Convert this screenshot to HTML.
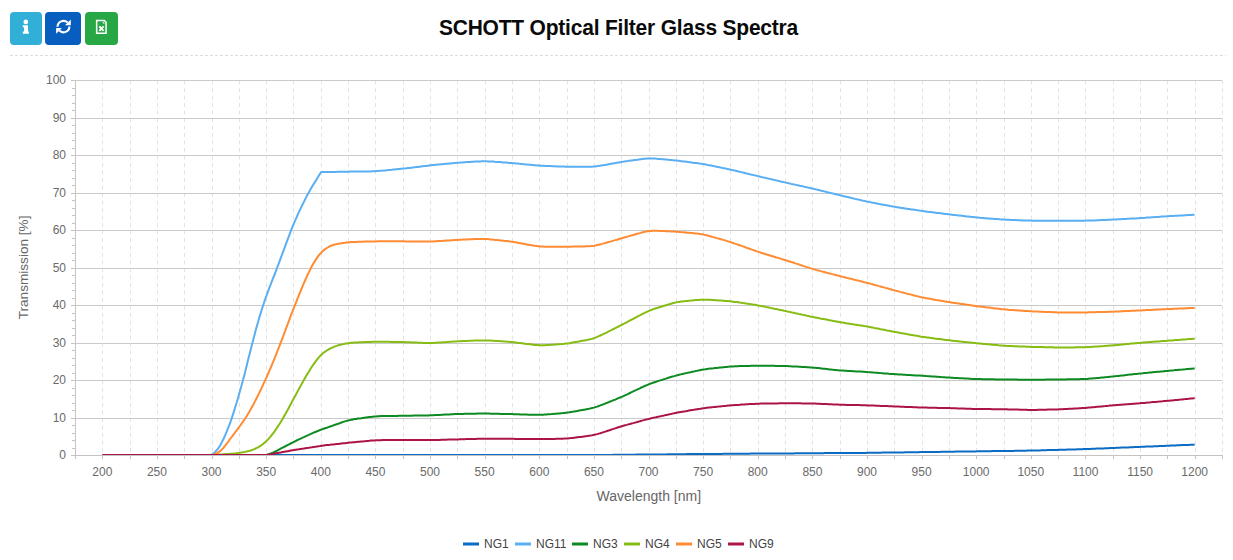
<!DOCTYPE html>
<html><head><meta charset="utf-8">
<style>
html,body{margin:0;padding:0;background:#fff;}
body{width:1233px;height:560px;position:relative;overflow:hidden;font-family:"Liberation Sans",sans-serif;}
.btn{position:absolute;top:12px;height:33px;border-radius:4px;}
.btn svg{position:absolute;left:0;top:0;}
#title{position:absolute;left:0;width:1237px;top:15.7px;text-align:center;font-weight:bold;font-size:22.3px;letter-spacing:-0.2px;color:#0a0a0a;line-height:24px;transform:scaleX(0.94);transform-origin:618.5px 0;}
svg text{font-family:"Liberation Sans",sans-serif;}
.lab{font-size:12px;fill:#6a6a6a;}
.ttl{font-size:14px;fill:#666;}
.ttl2{font-size:13.6px;fill:#666;}
.leg{font-size:12px;fill:#444;}
</style></head><body>
<div class="btn" style="left:10px;width:32px;background:#31afd6;">
<svg width="32" height="33" viewBox="0 0 32 33"><circle cx="15.8" cy="9.95" r="2.35" fill="#fff"/><path d="M12.8 13.3H18V19.6H18.9V21.8H12.8V19.6H14V15.2H12.8Z" fill="#fff"/></svg>
</div>
<div class="btn" style="left:45px;width:36px;background:#075ebf;">
<svg width="36" height="33" viewBox="0 0 36 33"><g fill="none" stroke="#fff" stroke-width="2.1"><path d="M12.55 14.8A5.9 5.9 0 0 1 22.6 10.6"/><path d="M24.35 14.4A5.9 5.9 0 0 1 14.3 18.6"/></g><path d="M25.8 7.4V13.2H20Z" fill="#fff"/><path d="M11.1 21.8V16H16.9Z" fill="#fff"/></svg>
</div>
<div class="btn" style="left:85px;width:33px;background:#28a745;">
<svg width="33" height="33" viewBox="0 0 33 33"><path d="M11.65 8.55H19.3L21.05 10.3V21.15H11.65Z" fill="none" stroke="#fff" stroke-width="1.5"/><path d="M17.9 9.4V11.5H20Z" fill="#fff"/><path d="M14.3 14.4L18.6 18.9M18.6 14.4L14.3 18.9" stroke="#fff" stroke-width="1.9"/></svg>
</div>
<div id="title">SCHOTT Optical Filter Glass Spectra</div>
<svg style="position:absolute;left:0;top:0" width="1233" height="560">
<line x1="10" y1="55.5" x2="1226" y2="55.5" stroke="#dcdcdc" stroke-dasharray="3 2"/>
<line x1="102.5" y1="80.5" x2="102.5" y2="455" stroke="#e3e3e3" stroke-dasharray="4 3.5"/>
<line x1="130.5" y1="80.5" x2="130.5" y2="455" stroke="#e3e3e3" stroke-dasharray="4 3.5"/>
<line x1="157.5" y1="80.5" x2="157.5" y2="455" stroke="#e3e3e3" stroke-dasharray="4 3.5"/>
<line x1="184.5" y1="80.5" x2="184.5" y2="455" stroke="#e3e3e3" stroke-dasharray="4 3.5"/>
<line x1="212.5" y1="80.5" x2="212.5" y2="455" stroke="#e3e3e3" stroke-dasharray="4 3.5"/>
<line x1="239.5" y1="80.5" x2="239.5" y2="455" stroke="#e3e3e3" stroke-dasharray="4 3.5"/>
<line x1="266.5" y1="80.5" x2="266.5" y2="455" stroke="#e3e3e3" stroke-dasharray="4 3.5"/>
<line x1="293.5" y1="80.5" x2="293.5" y2="455" stroke="#e3e3e3" stroke-dasharray="4 3.5"/>
<line x1="321.5" y1="80.5" x2="321.5" y2="455" stroke="#e3e3e3" stroke-dasharray="4 3.5"/>
<line x1="348.5" y1="80.5" x2="348.5" y2="455" stroke="#e3e3e3" stroke-dasharray="4 3.5"/>
<line x1="375.5" y1="80.5" x2="375.5" y2="455" stroke="#e3e3e3" stroke-dasharray="4 3.5"/>
<line x1="403.5" y1="80.5" x2="403.5" y2="455" stroke="#e3e3e3" stroke-dasharray="4 3.5"/>
<line x1="430.5" y1="80.5" x2="430.5" y2="455" stroke="#e3e3e3" stroke-dasharray="4 3.5"/>
<line x1="457.5" y1="80.5" x2="457.5" y2="455" stroke="#e3e3e3" stroke-dasharray="4 3.5"/>
<line x1="485.5" y1="80.5" x2="485.5" y2="455" stroke="#e3e3e3" stroke-dasharray="4 3.5"/>
<line x1="512.5" y1="80.5" x2="512.5" y2="455" stroke="#e3e3e3" stroke-dasharray="4 3.5"/>
<line x1="539.5" y1="80.5" x2="539.5" y2="455" stroke="#e3e3e3" stroke-dasharray="4 3.5"/>
<line x1="567.5" y1="80.5" x2="567.5" y2="455" stroke="#e3e3e3" stroke-dasharray="4 3.5"/>
<line x1="594.5" y1="80.5" x2="594.5" y2="455" stroke="#e3e3e3" stroke-dasharray="4 3.5"/>
<line x1="621.5" y1="80.5" x2="621.5" y2="455" stroke="#e3e3e3" stroke-dasharray="4 3.5"/>
<line x1="649.5" y1="80.5" x2="649.5" y2="455" stroke="#e3e3e3" stroke-dasharray="4 3.5"/>
<line x1="676.5" y1="80.5" x2="676.5" y2="455" stroke="#e3e3e3" stroke-dasharray="4 3.5"/>
<line x1="703.5" y1="80.5" x2="703.5" y2="455" stroke="#e3e3e3" stroke-dasharray="4 3.5"/>
<line x1="730.5" y1="80.5" x2="730.5" y2="455" stroke="#e3e3e3" stroke-dasharray="4 3.5"/>
<line x1="758.5" y1="80.5" x2="758.5" y2="455" stroke="#e3e3e3" stroke-dasharray="4 3.5"/>
<line x1="785.5" y1="80.5" x2="785.5" y2="455" stroke="#e3e3e3" stroke-dasharray="4 3.5"/>
<line x1="812.5" y1="80.5" x2="812.5" y2="455" stroke="#e3e3e3" stroke-dasharray="4 3.5"/>
<line x1="840.5" y1="80.5" x2="840.5" y2="455" stroke="#e3e3e3" stroke-dasharray="4 3.5"/>
<line x1="867.5" y1="80.5" x2="867.5" y2="455" stroke="#e3e3e3" stroke-dasharray="4 3.5"/>
<line x1="894.5" y1="80.5" x2="894.5" y2="455" stroke="#e3e3e3" stroke-dasharray="4 3.5"/>
<line x1="922.5" y1="80.5" x2="922.5" y2="455" stroke="#e3e3e3" stroke-dasharray="4 3.5"/>
<line x1="949.5" y1="80.5" x2="949.5" y2="455" stroke="#e3e3e3" stroke-dasharray="4 3.5"/>
<line x1="976.5" y1="80.5" x2="976.5" y2="455" stroke="#e3e3e3" stroke-dasharray="4 3.5"/>
<line x1="1004.5" y1="80.5" x2="1004.5" y2="455" stroke="#e3e3e3" stroke-dasharray="4 3.5"/>
<line x1="1031.5" y1="80.5" x2="1031.5" y2="455" stroke="#e3e3e3" stroke-dasharray="4 3.5"/>
<line x1="1058.5" y1="80.5" x2="1058.5" y2="455" stroke="#e3e3e3" stroke-dasharray="4 3.5"/>
<line x1="1085.5" y1="80.5" x2="1085.5" y2="455" stroke="#e3e3e3" stroke-dasharray="4 3.5"/>
<line x1="1113.5" y1="80.5" x2="1113.5" y2="455" stroke="#e3e3e3" stroke-dasharray="4 3.5"/>
<line x1="1140.5" y1="80.5" x2="1140.5" y2="455" stroke="#e3e3e3" stroke-dasharray="4 3.5"/>
<line x1="1167.5" y1="80.5" x2="1167.5" y2="455" stroke="#e3e3e3" stroke-dasharray="4 3.5"/>
<line x1="1195.5" y1="80.5" x2="1195.5" y2="455" stroke="#e3e3e3" stroke-dasharray="4 3.5"/>
<line x1="1222.5" y1="80.5" x2="1222.5" y2="455" stroke="#e3e3e3" stroke-dasharray="4 3.5"/>
<line x1="75" y1="418.5" x2="1222" y2="418.5" stroke="#cacaca"/>
<line x1="75" y1="380.5" x2="1222" y2="380.5" stroke="#cacaca"/>
<line x1="75" y1="343.5" x2="1222" y2="343.5" stroke="#cacaca"/>
<line x1="75" y1="305.5" x2="1222" y2="305.5" stroke="#cacaca"/>
<line x1="75" y1="268.5" x2="1222" y2="268.5" stroke="#cacaca"/>
<line x1="75" y1="230.5" x2="1222" y2="230.5" stroke="#cacaca"/>
<line x1="75" y1="193.5" x2="1222" y2="193.5" stroke="#cacaca"/>
<line x1="75" y1="155.5" x2="1222" y2="155.5" stroke="#cacaca"/>
<line x1="75" y1="118.5" x2="1222" y2="118.5" stroke="#cacaca"/>
<line x1="75" y1="80.5" x2="1222" y2="80.5" stroke="#cacaca"/>
<path d="M102.3 455.0 L103.9 455.0 L105.6 455.0 L107.2 455.0 L108.9 455.0 L110.5 455.0 L112.1 455.0 L113.8 455.0 L115.4 455.0 L117.1 455.0 L118.7 455.0 L120.3 455.0 L122.0 455.0 L123.6 455.0 L125.2 455.0 L126.9 455.0 L128.5 455.0 L130.2 455.0 L131.8 455.0 L133.4 455.0 L135.1 455.0 L136.7 455.0 L138.4 455.0 L140.0 455.0 L141.6 455.0 L143.3 455.0 L144.9 455.0 L146.6 455.0 L148.2 455.0 L149.8 455.0 L151.5 455.0 L153.1 455.0 L154.7 455.0 L156.4 455.0 L158.0 455.0 L159.7 455.0 L161.3 455.0 L162.9 455.0 L164.6 455.0 L166.2 455.0 L167.9 455.0 L169.5 455.0 L171.1 455.0 L172.8 455.0 L174.4 455.0 L176.0 455.0 L177.7 455.0 L179.3 455.0 L181.0 455.0 L182.6 455.0 L184.2 455.0 L185.9 455.0 L187.5 455.0 L189.2 455.0 L190.8 455.0 L192.4 455.0 L194.1 455.0 L195.7 455.0 L197.3 455.0 L199.0 455.0 L200.6 455.0 L202.3 455.0 L203.9 455.0 L205.5 455.0 L207.2 455.0 L208.8 455.0 L210.5 455.0 L212.1 455.0 L213.7 455.0 L215.4 455.0 L217.0 455.0 L218.6 455.0 L220.3 455.0 L221.9 455.0 L223.6 455.0 L225.2 455.0 L226.8 455.0 L228.5 455.0 L230.1 455.0 L231.8 455.0 L233.4 455.0 L235.0 455.0 L236.7 455.0 L238.3 455.0 L239.9 455.0 L241.6 455.0 L243.2 455.0 L244.9 455.0 L246.5 455.0 L248.1 455.0 L249.8 455.0 L251.4 455.0 L253.1 455.0 L254.7 455.0 L256.3 455.0 L258.0 455.0 L259.6 455.0 L261.3 455.0 L262.9 455.0 L264.5 455.0 L266.2 455.0 L267.8 455.0 L269.4 455.0 L271.1 455.0 L272.7 455.0 L274.4 455.0 L276.0 455.0 L277.6 455.0 L279.3 455.0 L280.9 455.0 L282.6 455.0 L284.2 455.0 L285.8 455.0 L287.5 455.0 L289.1 455.0 L290.7 455.0 L292.4 455.0 L294.0 455.0 L295.7 455.0 L297.3 455.0 L298.9 455.0 L300.6 455.0 L302.2 455.0 L303.9 455.0 L305.5 455.0 L307.1 455.0 L308.8 455.0 L310.4 455.0 L312.0 455.0 L313.7 455.0 L315.3 455.0 L317.0 455.0 L318.6 455.0 L320.2 455.0 L321.9 455.0 L323.5 455.0 L325.2 455.0 L326.8 455.0 L328.4 455.0 L330.1 455.0 L331.7 455.0 L333.3 455.0 L335.0 455.0 L336.6 455.0 L338.3 455.0 L339.9 455.0 L341.5 455.0 L343.2 455.0 L344.8 455.0 L346.5 455.0 L348.1 455.0 L349.7 455.0 L351.4 455.0 L353.0 455.0 L354.6 455.0 L356.3 455.0 L357.9 455.0 L359.6 455.0 L361.2 455.0 L362.8 455.0 L364.5 455.0 L366.1 455.0 L367.8 455.0 L369.4 455.0 L371.0 455.0 L372.7 455.0 L374.3 455.0 L376.0 455.0 L377.6 455.0 L379.2 455.0 L380.9 455.0 L382.5 455.0 L384.1 455.0 L385.8 455.0 L387.4 455.0 L389.1 455.0 L390.7 455.0 L392.3 455.0 L394.0 455.0 L395.6 455.0 L397.3 455.0 L398.9 455.0 L400.5 455.0 L402.2 455.0 L403.8 455.0 L405.4 455.0 L407.1 455.0 L408.7 455.0 L410.4 455.0 L412.0 455.0 L413.6 455.0 L415.3 455.0 L416.9 455.0 L418.6 455.0 L420.2 455.0 L421.8 455.0 L423.5 455.0 L425.1 455.0 L426.7 455.0 L428.4 455.0 L430.0 455.0 L431.7 455.0 L433.3 455.0 L434.9 455.0 L436.6 455.0 L438.2 455.0 L439.9 455.0 L441.5 455.0 L443.1 455.0 L444.8 455.0 L446.4 455.0 L448.0 455.0 L449.7 455.0 L451.3 455.0 L453.0 455.0 L454.6 455.0 L456.2 455.0 L457.9 455.0 L459.5 455.0 L461.2 455.0 L462.8 455.0 L464.4 455.0 L466.1 455.0 L467.7 455.0 L469.3 455.0 L471.0 455.0 L472.6 455.0 L474.3 455.0 L475.9 455.0 L477.5 455.0 L479.2 455.0 L480.8 455.0 L482.5 455.0 L484.1 455.0 L485.7 455.0 L487.4 455.0 L489.0 455.0 L490.7 455.0 L492.3 455.0 L493.9 455.0 L495.6 455.0 L497.2 455.0 L498.8 455.0 L500.5 455.0 L502.1 455.0 L503.8 455.0 L505.4 455.0 L507.0 455.0 L508.7 455.0 L510.3 455.0 L512.0 455.0 L513.6 455.0 L515.2 455.0 L516.9 455.0 L518.5 455.0 L520.1 455.0 L521.8 455.0 L523.4 455.0 L525.1 455.0 L526.7 455.0 L528.3 455.0 L530.0 455.0 L531.6 455.0 L533.3 455.0 L534.9 455.0 L536.5 455.0 L538.2 455.0 L539.8 455.0 L541.4 455.0 L543.1 455.0 L544.7 455.0 L546.4 455.0 L548.0 455.0 L549.6 455.0 L551.3 455.0 L552.9 455.0 L554.6 455.0 L556.2 455.0 L557.8 455.0 L559.5 455.0 L561.1 455.0 L562.7 455.0 L564.4 455.0 L566.0 455.0 L567.7 455.0 L569.3 455.0 L570.9 455.0 L572.6 455.0 L574.2 455.0 L575.9 455.0 L577.5 455.0 L579.1 455.0 L580.8 455.0 L582.4 455.0 L584.0 455.0 L585.7 455.0 L587.3 455.0 L589.0 455.0 L590.6 455.0 L592.2 455.0 L593.9 455.0 L595.5 455.0 L597.2 455.0 L598.8 455.0 L600.4 454.9 L602.1 454.9 L603.7 454.9 L605.4 454.9 L607.0 454.9 L608.6 454.9 L610.3 454.9 L611.9 454.9 L613.5 454.8 L615.2 454.8 L616.8 454.8 L618.5 454.8 L620.1 454.8 L621.7 454.8 L623.4 454.8 L625.0 454.7 L626.7 454.7 L628.3 454.7 L629.9 454.7 L631.6 454.7 L633.2 454.7 L634.8 454.7 L636.5 454.6 L638.1 454.6 L639.8 454.6 L641.4 454.6 L643.0 454.6 L644.7 454.6 L646.3 454.6 L648.0 454.5 L649.6 454.5 L651.2 454.5 L652.9 454.5 L654.5 454.5 L656.1 454.5 L657.8 454.4 L659.4 454.4 L661.1 454.4 L662.7 454.4 L664.3 454.4 L666.0 454.4 L667.6 454.3 L669.3 454.3 L670.9 454.3 L672.5 454.3 L674.2 454.3 L675.8 454.3 L677.4 454.2 L679.1 454.2 L680.7 454.2 L682.4 454.2 L684.0 454.2 L685.6 454.2 L687.3 454.1 L688.9 454.1 L690.6 454.1 L692.2 454.1 L693.8 454.1 L695.5 454.1 L697.1 454.0 L698.7 454.0 L700.4 454.0 L702.0 454.0 L703.7 454.0 L705.3 454.0 L706.9 454.0 L708.6 453.9 L710.2 453.9 L711.9 453.9 L713.5 453.9 L715.1 453.9 L716.8 453.9 L718.4 453.9 L720.1 453.9 L721.7 453.9 L723.3 453.8 L725.0 453.8 L726.6 453.8 L728.2 453.8 L729.9 453.8 L731.5 453.8 L733.2 453.8 L734.8 453.8 L736.4 453.8 L738.1 453.7 L739.7 453.7 L741.4 453.7 L743.0 453.7 L744.6 453.7 L746.3 453.7 L747.9 453.7 L749.5 453.7 L751.2 453.6 L752.8 453.6 L754.5 453.6 L756.1 453.6 L757.7 453.6 L759.4 453.6 L761.0 453.6 L762.7 453.6 L764.3 453.6 L765.9 453.5 L767.6 453.5 L769.2 453.5 L770.8 453.5 L772.5 453.5 L774.1 453.5 L775.8 453.5 L777.4 453.5 L779.0 453.5 L780.7 453.4 L782.3 453.4 L784.0 453.4 L785.6 453.4 L787.2 453.4 L788.9 453.4 L790.5 453.4 L792.1 453.4 L793.8 453.4 L795.4 453.3 L797.1 453.3 L798.7 453.3 L800.3 453.3 L802.0 453.3 L803.6 453.3 L805.3 453.3 L806.9 453.3 L808.5 453.3 L810.2 453.2 L811.8 453.2 L813.4 453.2 L815.1 453.2 L816.7 453.2 L818.4 453.2 L820.0 453.2 L821.6 453.2 L823.3 453.2 L824.9 453.1 L826.6 453.1 L828.2 453.1 L829.8 453.1 L831.5 453.1 L833.1 453.1 L834.8 453.1 L836.4 453.1 L838.0 453.1 L839.7 453.0 L841.3 453.0 L842.9 453.0 L844.6 453.0 L846.2 453.0 L847.9 453.0 L849.5 453.0 L851.1 453.0 L852.8 453.0 L854.4 452.9 L856.1 452.9 L857.7 452.9 L859.3 452.9 L861.0 452.9 L862.6 452.9 L864.2 452.9 L865.9 452.9 L867.5 452.8 L869.2 452.8 L870.8 452.8 L872.4 452.8 L874.1 452.8 L875.7 452.7 L877.4 452.7 L879.0 452.7 L880.6 452.7 L882.3 452.6 L883.9 452.6 L885.5 452.6 L887.2 452.6 L888.8 452.6 L890.5 452.5 L892.1 452.5 L893.7 452.5 L895.4 452.5 L897.0 452.4 L898.7 452.4 L900.3 452.4 L901.9 452.4 L903.6 452.4 L905.2 452.3 L906.8 452.3 L908.5 452.3 L910.1 452.3 L911.8 452.2 L913.4 452.2 L915.0 452.2 L916.7 452.2 L918.3 452.2 L920.0 452.1 L921.6 452.1 L923.2 452.1 L924.9 452.1 L926.5 452.0 L928.1 452.0 L929.8 452.0 L931.4 452.0 L933.1 452.0 L934.7 451.9 L936.3 451.9 L938.0 451.9 L939.6 451.9 L941.3 451.8 L942.9 451.8 L944.5 451.8 L946.2 451.8 L947.8 451.7 L949.5 451.7 L951.1 451.7 L952.7 451.7 L954.4 451.7 L956.0 451.6 L957.6 451.6 L959.3 451.6 L960.9 451.6 L962.6 451.5 L964.2 451.5 L965.8 451.5 L967.5 451.5 L969.1 451.5 L970.8 451.4 L972.4 451.4 L974.0 451.4 L975.7 451.4 L977.3 451.3 L978.9 451.3 L980.6 451.3 L982.2 451.3 L983.9 451.3 L985.5 451.2 L987.1 451.2 L988.8 451.2 L990.4 451.2 L992.1 451.1 L993.7 451.1 L995.3 451.1 L997.0 451.1 L998.6 451.1 L1000.2 451.0 L1001.9 451.0 L1003.5 451.0 L1005.2 451.0 L1006.8 450.9 L1008.4 450.9 L1010.1 450.9 L1011.7 450.9 L1013.4 450.9 L1015.0 450.8 L1016.6 450.8 L1018.3 450.8 L1019.9 450.8 L1021.5 450.7 L1023.2 450.7 L1024.8 450.7 L1026.5 450.7 L1028.1 450.6 L1029.7 450.6 L1031.4 450.6 L1033.0 450.5 L1034.7 450.5 L1036.3 450.5 L1037.9 450.4 L1039.6 450.4 L1041.2 450.3 L1042.8 450.3 L1044.5 450.2 L1046.1 450.2 L1047.8 450.1 L1049.4 450.1 L1051.0 450.1 L1052.7 450.0 L1054.3 450.0 L1056.0 449.9 L1057.6 449.9 L1059.2 449.8 L1060.9 449.8 L1062.5 449.7 L1064.2 449.7 L1065.8 449.7 L1067.4 449.6 L1069.1 449.6 L1070.7 449.5 L1072.3 449.5 L1074.0 449.4 L1075.6 449.4 L1077.3 449.3 L1078.9 449.3 L1080.5 449.2 L1082.2 449.2 L1083.8 449.1 L1085.5 449.1 L1087.1 449.0 L1088.7 449.0 L1090.4 448.9 L1092.0 448.8 L1093.6 448.8 L1095.3 448.7 L1096.9 448.6 L1098.6 448.6 L1100.2 448.5 L1101.8 448.4 L1103.5 448.4 L1105.1 448.3 L1106.8 448.2 L1108.4 448.2 L1110.0 448.1 L1111.7 448.0 L1113.3 448.0 L1114.9 447.9 L1116.6 447.8 L1118.2 447.8 L1119.9 447.7 L1121.5 447.6 L1123.1 447.6 L1124.8 447.5 L1126.4 447.4 L1128.1 447.4 L1129.7 447.3 L1131.3 447.2 L1133.0 447.2 L1134.6 447.1 L1136.2 447.0 L1137.9 447.0 L1139.5 446.9 L1141.2 446.8 L1142.8 446.8 L1144.4 446.7 L1146.1 446.6 L1147.7 446.6 L1149.4 446.5 L1151.0 446.4 L1152.6 446.4 L1154.3 446.3 L1155.9 446.2 L1157.5 446.2 L1159.2 446.1 L1160.8 446.0 L1162.5 445.9 L1164.1 445.9 L1165.7 445.8 L1167.4 445.7 L1169.0 445.7 L1170.7 445.6 L1172.3 445.5 L1173.9 445.5 L1175.6 445.4 L1177.2 445.3 L1178.9 445.3 L1180.5 445.2 L1182.1 445.1 L1183.8 445.1 L1185.4 445.0 L1187.0 444.9 L1188.7 444.9 L1190.3 444.8 L1192.0 444.7 L1193.6 444.7 L1194.7 444.6" fill="none" stroke="#0a6cc4" stroke-width="2" stroke-linejoin="round" stroke-linecap="butt"/>
<path d="M102.3 455.0 L103.9 455.0 L105.6 455.0 L107.2 455.0 L108.9 455.0 L110.5 455.0 L112.1 455.0 L113.8 455.0 L115.4 455.0 L117.1 455.0 L118.7 455.0 L120.3 455.0 L122.0 455.0 L123.6 455.0 L125.2 455.0 L126.9 455.0 L128.5 455.0 L130.2 455.0 L131.8 455.0 L133.4 455.0 L135.1 455.0 L136.7 455.0 L138.4 455.0 L140.0 455.0 L141.6 455.0 L143.3 455.0 L144.9 455.0 L146.6 455.0 L148.2 455.0 L149.8 455.0 L151.5 455.0 L153.1 455.0 L154.7 455.0 L156.4 455.0 L158.0 455.0 L159.7 455.0 L161.3 455.0 L162.9 455.0 L164.6 455.0 L166.2 455.0 L167.9 455.0 L169.5 455.0 L171.1 455.0 L172.8 455.0 L174.4 455.0 L176.0 455.0 L177.7 455.0 L179.3 455.0 L181.0 455.0 L182.6 455.0 L184.2 455.0 L185.9 455.0 L187.5 455.0 L189.2 455.0 L190.8 455.0 L192.4 455.0 L194.1 455.0 L195.7 455.0 L197.3 455.0 L199.0 455.0 L200.6 455.0 L202.3 455.0 L203.9 455.0 L205.5 455.0 L207.2 455.0 L208.8 455.0 L210.5 454.9 L212.1 454.4 L213.7 453.2 L215.4 451.7 L217.0 449.9 L218.6 447.8 L220.3 445.2 L221.9 442.1 L223.6 438.8 L225.2 435.2 L226.8 431.3 L228.5 427.2 L230.1 422.8 L231.8 418.1 L233.4 413.1 L235.0 407.8 L236.7 402.5 L238.3 397.0 L239.9 391.2 L241.6 385.3 L243.2 379.2 L244.9 372.9 L246.5 366.4 L248.1 359.8 L249.8 353.3 L251.4 346.8 L253.1 340.4 L254.7 334.2 L256.3 328.1 L258.0 322.3 L259.6 316.6 L261.3 311.2 L262.9 306.1 L264.5 301.2 L266.2 296.5 L267.8 292.0 L269.4 287.7 L271.1 283.4 L272.7 279.2 L274.4 275.0 L276.0 270.8 L277.6 266.5 L279.3 262.1 L280.9 257.7 L282.6 253.2 L284.2 248.8 L285.8 244.3 L287.5 239.9 L289.1 235.6 L290.7 231.3 L292.4 227.2 L294.0 223.2 L295.7 219.4 L297.3 215.7 L298.9 212.1 L300.6 208.6 L302.2 205.2 L303.9 201.9 L305.5 198.6 L307.1 195.5 L308.8 192.5 L310.4 189.6 L312.0 186.8 L313.7 184.0 L315.3 181.4 L317.0 178.7 L318.6 176.1 L320.2 173.5 L320.8 172.6 L321.1 172.1 L322.8 172.0 L324.4 172.0 L326.1 172.0 L327.7 172.0 L329.3 171.9 L331.0 171.9 L332.6 171.9 L334.3 171.9 L335.9 171.9 L337.5 171.8 L339.2 171.8 L340.8 171.8 L342.4 171.8 L344.1 171.7 L345.7 171.7 L347.4 171.7 L349.0 171.7 L350.6 171.6 L352.3 171.6 L353.9 171.6 L355.6 171.6 L357.2 171.6 L358.8 171.5 L360.5 171.5 L362.1 171.5 L363.7 171.5 L365.4 171.4 L367.0 171.4 L368.7 171.4 L370.3 171.4 L371.9 171.3 L373.6 171.2 L375.2 171.2 L376.9 171.1 L378.5 171.0 L380.1 170.8 L381.8 170.7 L383.4 170.6 L385.0 170.4 L386.7 170.3 L388.3 170.1 L390.0 169.9 L391.6 169.8 L393.2 169.6 L394.9 169.5 L396.5 169.3 L398.2 169.1 L399.8 169.0 L401.4 168.8 L403.1 168.6 L404.7 168.4 L406.4 168.3 L408.0 168.1 L409.6 167.9 L411.3 167.7 L412.9 167.5 L414.5 167.3 L416.2 167.1 L417.8 166.9 L419.5 166.7 L421.1 166.5 L422.7 166.3 L424.4 166.1 L426.0 165.9 L427.7 165.7 L429.3 165.5 L430.9 165.3 L432.6 165.1 L434.2 165.0 L435.8 164.8 L437.5 164.6 L439.1 164.5 L440.8 164.3 L442.4 164.2 L444.0 164.0 L445.7 163.8 L447.3 163.7 L449.0 163.5 L450.6 163.4 L452.2 163.2 L453.9 163.1 L455.5 162.9 L457.1 162.8 L458.8 162.7 L460.4 162.6 L462.1 162.4 L463.7 162.3 L465.3 162.2 L467.0 162.1 L468.6 162.0 L470.3 161.9 L471.9 161.8 L473.5 161.7 L475.2 161.6 L476.8 161.5 L478.4 161.4 L480.1 161.4 L481.7 161.3 L483.4 161.3 L485.0 161.3 L486.6 161.3 L488.3 161.4 L489.9 161.4 L491.6 161.5 L493.2 161.6 L494.8 161.8 L496.5 161.9 L498.1 162.0 L499.7 162.1 L501.4 162.2 L503.0 162.4 L504.7 162.5 L506.3 162.6 L507.9 162.8 L509.6 162.9 L511.2 163.0 L512.9 163.2 L514.5 163.3 L516.1 163.5 L517.8 163.6 L519.4 163.8 L521.1 163.9 L522.7 164.1 L524.3 164.2 L526.0 164.4 L527.6 164.5 L529.2 164.7 L530.9 164.8 L532.5 165.0 L534.2 165.2 L535.8 165.3 L537.4 165.4 L539.1 165.5 L540.7 165.7 L542.4 165.8 L544.0 165.8 L545.6 165.9 L547.3 166.0 L548.9 166.1 L550.5 166.1 L552.2 166.2 L553.8 166.3 L555.5 166.3 L557.1 166.4 L558.7 166.5 L560.4 166.5 L562.0 166.6 L563.7 166.6 L565.3 166.7 L566.9 166.7 L568.6 166.8 L570.2 166.8 L571.8 166.8 L573.5 166.8 L575.1 166.8 L576.8 166.8 L578.4 166.8 L580.0 166.8 L581.7 166.8 L583.3 166.8 L585.0 166.8 L586.6 166.8 L588.2 166.8 L589.9 166.7 L591.5 166.7 L593.1 166.6 L594.8 166.4 L596.4 166.2 L598.1 166.0 L599.7 165.8 L601.3 165.5 L603.0 165.2 L604.6 164.9 L606.3 164.7 L607.9 164.4 L609.5 164.1 L611.2 163.8 L612.8 163.5 L614.4 163.2 L616.1 162.9 L617.7 162.6 L619.4 162.4 L621.0 162.1 L622.6 161.8 L624.3 161.6 L625.9 161.3 L627.6 161.1 L629.2 160.8 L630.8 160.6 L632.5 160.4 L634.1 160.1 L635.8 159.9 L637.4 159.7 L639.0 159.4 L640.7 159.2 L642.3 159.0 L643.9 158.8 L645.6 158.7 L647.2 158.5 L648.9 158.5 L650.5 158.4 L652.1 158.5 L653.8 158.5 L655.4 158.6 L657.1 158.8 L658.7 158.9 L660.3 159.0 L662.0 159.2 L663.6 159.3 L665.2 159.5 L666.9 159.6 L668.5 159.8 L670.2 159.9 L671.8 160.1 L673.4 160.2 L675.1 160.4 L676.7 160.6 L678.4 160.8 L680.0 161.0 L681.6 161.2 L683.3 161.4 L684.9 161.6 L686.5 161.8 L688.2 162.0 L689.8 162.2 L691.5 162.4 L693.1 162.7 L694.7 162.9 L696.4 163.1 L698.0 163.3 L699.7 163.6 L701.3 163.8 L702.9 164.1 L704.6 164.3 L706.2 164.6 L707.8 165.0 L709.5 165.3 L711.1 165.6 L712.8 165.9 L714.4 166.3 L716.0 166.6 L717.7 166.9 L719.3 167.3 L721.0 167.6 L722.6 168.0 L724.2 168.3 L725.9 168.6 L727.5 169.0 L729.1 169.3 L730.8 169.7 L732.4 170.1 L734.1 170.4 L735.7 170.8 L737.3 171.2 L739.0 171.6 L740.6 172.0 L742.3 172.4 L743.9 172.8 L745.5 173.2 L747.2 173.6 L748.8 174.0 L750.5 174.4 L752.1 174.7 L753.7 175.1 L755.4 175.5 L757.0 175.9 L758.6 176.3 L760.3 176.7 L761.9 177.1 L763.6 177.5 L765.2 177.8 L766.8 178.2 L768.5 178.6 L770.1 179.0 L771.8 179.4 L773.4 179.8 L775.0 180.1 L776.7 180.5 L778.3 180.9 L779.9 181.3 L781.6 181.7 L783.2 182.0 L784.9 182.4 L786.5 182.8 L788.1 183.1 L789.8 183.5 L791.4 183.9 L793.1 184.2 L794.7 184.6 L796.3 185.0 L798.0 185.3 L799.6 185.7 L801.2 186.0 L802.9 186.4 L804.5 186.8 L806.2 187.1 L807.8 187.5 L809.4 187.8 L811.1 188.2 L812.7 188.6 L814.4 189.0 L816.0 189.4 L817.6 189.8 L819.3 190.2 L820.9 190.6 L822.5 191.0 L824.2 191.4 L825.8 191.8 L827.5 192.2 L829.1 192.6 L830.7 193.0 L832.4 193.4 L834.0 193.8 L835.7 194.2 L837.3 194.6 L838.9 195.0 L840.6 195.4 L842.2 195.8 L843.8 196.2 L845.5 196.6 L847.1 196.9 L848.8 197.3 L850.4 197.7 L852.0 198.1 L853.7 198.5 L855.3 198.9 L857.0 199.2 L858.6 199.6 L860.2 200.0 L861.9 200.4 L863.5 200.7 L865.2 201.1 L866.8 201.5 L868.4 201.8 L870.1 202.1 L871.7 202.5 L873.3 202.8 L875.0 203.1 L876.6 203.4 L878.3 203.7 L879.9 204.1 L881.5 204.4 L883.2 204.7 L884.8 205.0 L886.5 205.3 L888.1 205.6 L889.7 205.9 L891.4 206.2 L893.0 206.5 L894.6 206.8 L896.3 207.1 L897.9 207.4 L899.6 207.6 L901.2 207.9 L902.8 208.1 L904.5 208.4 L906.1 208.6 L907.8 208.9 L909.4 209.1 L911.0 209.4 L912.7 209.6 L914.3 209.8 L915.9 210.1 L917.6 210.3 L919.2 210.6 L920.9 210.8 L922.5 211.0 L924.1 211.2 L925.8 211.5 L927.4 211.7 L929.1 211.9 L930.7 212.1 L932.3 212.3 L934.0 212.5 L935.6 212.7 L937.2 212.9 L938.9 213.1 L940.5 213.3 L942.2 213.5 L943.8 213.7 L945.4 213.9 L947.1 214.1 L948.7 214.3 L950.4 214.5 L952.0 214.7 L953.6 214.9 L955.3 215.1 L956.9 215.3 L958.5 215.5 L960.2 215.6 L961.8 215.8 L963.5 216.0 L965.1 216.2 L966.7 216.4 L968.4 216.6 L970.0 216.8 L971.7 217.0 L973.3 217.1 L974.9 217.3 L976.6 217.5 L978.2 217.6 L979.9 217.8 L981.5 217.9 L983.1 218.0 L984.8 218.2 L986.4 218.3 L988.0 218.4 L989.7 218.5 L991.3 218.7 L993.0 218.8 L994.6 218.9 L996.2 219.0 L997.9 219.1 L999.5 219.3 L1001.2 219.4 L1002.8 219.5 L1004.4 219.6 L1006.1 219.7 L1007.7 219.7 L1009.3 219.8 L1011.0 219.9 L1012.6 220.0 L1014.3 220.0 L1015.9 220.1 L1017.5 220.2 L1019.2 220.2 L1020.8 220.3 L1022.5 220.4 L1024.1 220.4 L1025.7 220.5 L1027.4 220.5 L1029.0 220.6 L1030.6 220.6 L1032.3 220.7 L1033.9 220.7 L1035.6 220.7 L1037.2 220.7 L1038.8 220.7 L1040.5 220.7 L1042.1 220.7 L1043.8 220.7 L1045.4 220.7 L1047.0 220.7 L1048.7 220.7 L1050.3 220.7 L1051.9 220.7 L1053.6 220.7 L1055.2 220.7 L1056.9 220.7 L1058.5 220.7 L1060.1 220.7 L1061.8 220.7 L1063.4 220.7 L1065.1 220.7 L1066.7 220.7 L1068.3 220.7 L1070.0 220.7 L1071.6 220.7 L1073.2 220.7 L1074.9 220.7 L1076.5 220.7 L1078.2 220.7 L1079.8 220.7 L1081.4 220.7 L1083.1 220.7 L1084.7 220.7 L1086.4 220.6 L1088.0 220.6 L1089.6 220.5 L1091.3 220.5 L1092.9 220.4 L1094.6 220.4 L1096.2 220.3 L1097.8 220.2 L1099.5 220.2 L1101.1 220.1 L1102.7 220.0 L1104.4 220.0 L1106.0 219.9 L1107.7 219.8 L1109.3 219.7 L1110.9 219.7 L1112.6 219.6 L1114.2 219.5 L1115.9 219.4 L1117.5 219.3 L1119.1 219.3 L1120.8 219.2 L1122.4 219.1 L1124.0 219.0 L1125.7 218.9 L1127.3 218.8 L1129.0 218.7 L1130.6 218.6 L1132.2 218.5 L1133.9 218.5 L1135.5 218.4 L1137.2 218.3 L1138.8 218.2 L1140.4 218.1 L1142.1 218.0 L1143.7 217.9 L1145.3 217.8 L1147.0 217.6 L1148.6 217.5 L1150.3 217.4 L1151.9 217.3 L1153.5 217.2 L1155.2 217.1 L1156.8 217.0 L1158.5 216.9 L1160.1 216.7 L1161.7 216.6 L1163.4 216.5 L1165.0 216.4 L1166.6 216.3 L1168.3 216.2 L1169.9 216.1 L1171.6 216.0 L1173.2 215.9 L1174.8 215.8 L1176.5 215.7 L1178.1 215.7 L1179.8 215.6 L1181.4 215.5 L1183.0 215.4 L1184.7 215.3 L1186.3 215.2 L1187.9 215.1 L1189.6 215.0 L1191.2 214.9 L1192.9 214.8 L1194.5 214.7" fill="none" stroke="#5aaef2" stroke-width="2" stroke-linejoin="round" stroke-linecap="butt"/>
<path d="M102.3 455.0 L103.9 455.0 L105.6 455.0 L107.2 455.0 L108.9 455.0 L110.5 455.0 L112.1 455.0 L113.8 455.0 L115.4 455.0 L117.1 455.0 L118.7 455.0 L120.3 455.0 L122.0 455.0 L123.6 455.0 L125.2 455.0 L126.9 455.0 L128.5 455.0 L130.2 455.0 L131.8 455.0 L133.4 455.0 L135.1 455.0 L136.7 455.0 L138.4 455.0 L140.0 455.0 L141.6 455.0 L143.3 455.0 L144.9 455.0 L146.6 455.0 L148.2 455.0 L149.8 455.0 L151.5 455.0 L153.1 455.0 L154.7 455.0 L156.4 455.0 L158.0 455.0 L159.7 455.0 L161.3 455.0 L162.9 455.0 L164.6 455.0 L166.2 455.0 L167.9 455.0 L169.5 455.0 L171.1 455.0 L172.8 455.0 L174.4 455.0 L176.0 455.0 L177.7 455.0 L179.3 455.0 L181.0 455.0 L182.6 455.0 L184.2 455.0 L185.9 455.0 L187.5 455.0 L189.2 455.0 L190.8 455.0 L192.4 455.0 L194.1 455.0 L195.7 455.0 L197.3 455.0 L199.0 455.0 L200.6 455.0 L202.3 455.0 L203.9 455.0 L205.5 455.0 L207.2 455.0 L208.8 455.0 L210.5 455.0 L212.1 455.0 L213.7 455.0 L215.4 455.0 L217.0 455.0 L218.6 455.0 L220.3 455.0 L221.9 455.0 L223.6 455.0 L225.2 455.0 L226.8 455.0 L228.5 455.0 L230.1 455.0 L231.8 455.0 L233.4 455.0 L235.0 455.0 L236.7 455.0 L238.3 455.0 L239.9 455.0 L241.6 455.0 L243.2 455.0 L244.9 455.0 L246.5 455.0 L248.1 455.0 L249.8 455.0 L251.4 455.0 L253.1 455.0 L254.7 455.0 L256.3 455.0 L258.0 455.0 L259.6 455.0 L261.3 455.0 L262.9 455.0 L264.5 455.0 L266.2 454.9 L267.8 454.5 L269.4 454.0 L271.1 453.4 L272.7 452.8 L274.4 452.0 L276.0 451.2 L277.6 450.3 L279.3 449.4 L280.9 448.5 L282.6 447.7 L284.2 446.8 L285.8 446.0 L287.5 445.1 L289.1 444.3 L290.7 443.5 L292.4 442.6 L294.0 441.8 L295.7 441.0 L297.3 440.2 L298.9 439.4 L300.6 438.6 L302.2 437.8 L303.9 437.1 L305.5 436.3 L307.1 435.6 L308.8 434.9 L310.4 434.1 L312.0 433.4 L313.7 432.7 L315.3 432.0 L317.0 431.3 L318.6 430.7 L320.2 430.0 L321.9 429.4 L323.5 428.8 L325.2 428.2 L326.8 427.7 L328.4 427.1 L330.1 426.5 L331.7 426.0 L333.3 425.4 L335.0 424.8 L336.6 424.3 L338.3 423.7 L339.9 423.1 L341.5 422.5 L343.2 421.9 L344.8 421.4 L346.5 420.9 L348.1 420.5 L349.7 420.1 L351.4 419.7 L353.0 419.4 L354.6 419.1 L356.3 418.9 L357.9 418.6 L359.6 418.4 L361.2 418.2 L362.8 417.9 L364.5 417.7 L366.1 417.5 L367.8 417.3 L369.4 417.1 L371.0 416.9 L372.7 416.7 L374.3 416.5 L376.0 416.4 L377.6 416.3 L379.2 416.2 L380.9 416.1 L382.5 416.1 L384.1 416.1 L385.8 416.0 L387.4 416.0 L389.1 416.0 L390.7 416.0 L392.3 415.9 L394.0 415.9 L395.6 415.9 L397.3 415.9 L398.9 415.8 L400.5 415.8 L402.2 415.8 L403.8 415.8 L405.4 415.8 L407.1 415.7 L408.7 415.7 L410.4 415.7 L412.0 415.7 L413.6 415.6 L415.3 415.6 L416.9 415.6 L418.6 415.6 L420.2 415.6 L421.8 415.5 L423.5 415.5 L425.1 415.5 L426.7 415.4 L428.4 415.4 L430.0 415.3 L431.7 415.3 L433.3 415.2 L434.9 415.1 L436.6 415.1 L438.2 415.0 L439.9 414.9 L441.5 414.8 L443.1 414.7 L444.8 414.6 L446.4 414.5 L448.0 414.4 L449.7 414.4 L451.3 414.3 L453.0 414.2 L454.6 414.1 L456.2 414.0 L457.9 414.0 L459.5 413.9 L461.2 413.9 L462.8 413.9 L464.4 413.8 L466.1 413.8 L467.7 413.8 L469.3 413.8 L471.0 413.7 L472.6 413.7 L474.3 413.7 L475.9 413.7 L477.5 413.6 L479.2 413.6 L480.8 413.6 L482.5 413.6 L484.1 413.6 L485.7 413.6 L487.4 413.6 L489.0 413.6 L490.7 413.7 L492.3 413.7 L493.9 413.7 L495.6 413.8 L497.2 413.8 L498.8 413.8 L500.5 413.9 L502.1 413.9 L503.8 413.9 L505.4 414.0 L507.0 414.0 L508.7 414.0 L510.3 414.1 L512.0 414.1 L513.6 414.2 L515.2 414.2 L516.9 414.3 L518.5 414.3 L520.1 414.4 L521.8 414.4 L523.4 414.5 L525.1 414.5 L526.7 414.6 L528.3 414.7 L530.0 414.7 L531.6 414.8 L533.3 414.8 L534.9 414.8 L536.5 414.8 L538.2 414.8 L539.8 414.8 L541.4 414.8 L543.1 414.7 L544.7 414.6 L546.4 414.5 L548.0 414.3 L549.6 414.2 L551.3 414.1 L552.9 413.9 L554.6 413.8 L556.2 413.7 L557.8 413.5 L559.5 413.4 L561.1 413.2 L562.7 413.1 L564.4 412.9 L566.0 412.7 L567.7 412.5 L569.3 412.3 L570.9 412.0 L572.6 411.8 L574.2 411.5 L575.9 411.2 L577.5 410.9 L579.1 410.6 L580.8 410.3 L582.4 410.0 L584.0 409.7 L585.7 409.4 L587.3 409.1 L589.0 408.8 L590.6 408.4 L592.2 408.0 L593.9 407.6 L595.5 407.1 L597.2 406.6 L598.8 406.0 L600.4 405.4 L602.1 404.8 L603.7 404.1 L605.4 403.5 L607.0 402.8 L608.6 402.2 L610.3 401.5 L611.9 400.9 L613.5 400.2 L615.2 399.6 L616.8 398.9 L618.5 398.2 L620.1 397.5 L621.7 396.8 L623.4 396.1 L625.0 395.3 L626.7 394.6 L628.3 393.8 L629.9 393.0 L631.6 392.2 L633.2 391.4 L634.8 390.7 L636.5 389.9 L638.1 389.1 L639.8 388.3 L641.4 387.5 L643.0 386.8 L644.7 386.0 L646.3 385.3 L648.0 384.6 L649.6 384.0 L651.2 383.4 L652.9 382.8 L654.5 382.2 L656.1 381.7 L657.8 381.1 L659.4 380.6 L661.1 380.1 L662.7 379.6 L664.3 379.1 L666.0 378.6 L667.6 378.0 L669.3 377.5 L670.9 377.0 L672.5 376.5 L674.2 376.1 L675.8 375.6 L677.4 375.2 L679.1 374.8 L680.7 374.4 L682.4 374.0 L684.0 373.6 L685.6 373.3 L687.3 372.9 L688.9 372.5 L690.6 372.2 L692.2 371.8 L693.8 371.5 L695.5 371.1 L697.1 370.8 L698.7 370.4 L700.4 370.1 L702.0 369.8 L703.7 369.5 L705.3 369.3 L706.9 369.0 L708.6 368.8 L710.2 368.6 L711.9 368.4 L713.5 368.3 L715.1 368.1 L716.8 367.9 L718.4 367.7 L720.1 367.5 L721.7 367.4 L723.3 367.2 L725.0 367.0 L726.6 366.9 L728.2 366.7 L729.9 366.6 L731.5 366.5 L733.2 366.4 L734.8 366.3 L736.4 366.2 L738.1 366.2 L739.7 366.1 L741.4 366.1 L743.0 366.0 L744.6 366.0 L746.3 365.9 L747.9 365.9 L749.5 365.9 L751.2 365.8 L752.8 365.8 L754.5 365.7 L756.1 365.7 L757.7 365.7 L759.4 365.7 L761.0 365.7 L762.7 365.7 L764.3 365.7 L765.9 365.7 L767.6 365.8 L769.2 365.8 L770.8 365.8 L772.5 365.8 L774.1 365.8 L775.8 365.9 L777.4 365.9 L779.0 365.9 L780.7 365.9 L782.3 366.0 L784.0 366.0 L785.6 366.1 L787.2 366.1 L788.9 366.2 L790.5 366.3 L792.1 366.4 L793.8 366.5 L795.4 366.5 L797.1 366.6 L798.7 366.7 L800.3 366.8 L802.0 366.9 L803.6 367.0 L805.3 367.1 L806.9 367.2 L808.5 367.3 L810.2 367.4 L811.8 367.5 L813.4 367.7 L815.1 367.8 L816.7 368.0 L818.4 368.1 L820.0 368.3 L821.6 368.5 L823.3 368.7 L824.9 368.8 L826.6 369.0 L828.2 369.2 L829.8 369.4 L831.5 369.6 L833.1 369.7 L834.8 369.9 L836.4 370.1 L838.0 370.2 L839.7 370.4 L841.3 370.5 L842.9 370.6 L844.6 370.7 L846.2 370.8 L847.9 370.9 L849.5 371.0 L851.1 371.1 L852.8 371.2 L854.4 371.3 L856.1 371.4 L857.7 371.5 L859.3 371.6 L861.0 371.6 L862.6 371.7 L864.2 371.8 L865.9 371.9 L867.5 372.1 L869.2 372.2 L870.8 372.3 L872.4 372.4 L874.1 372.6 L875.7 372.7 L877.4 372.8 L879.0 372.9 L880.6 373.1 L882.3 373.2 L883.9 373.4 L885.5 373.5 L887.2 373.6 L888.8 373.8 L890.5 373.9 L892.1 374.0 L893.7 374.1 L895.4 374.2 L897.0 374.3 L898.7 374.4 L900.3 374.5 L901.9 374.6 L903.6 374.7 L905.2 374.8 L906.8 374.9 L908.5 375.0 L910.1 375.1 L911.8 375.2 L913.4 375.3 L915.0 375.4 L916.7 375.4 L918.3 375.5 L920.0 375.6 L921.6 375.7 L923.2 375.8 L924.9 375.9 L926.5 376.1 L928.1 376.2 L929.8 376.3 L931.4 376.4 L933.1 376.5 L934.7 376.6 L936.3 376.7 L938.0 376.8 L939.6 376.9 L941.3 377.1 L942.9 377.2 L944.5 377.3 L946.2 377.4 L947.8 377.5 L949.5 377.6 L951.1 377.7 L952.7 377.8 L954.4 377.9 L956.0 378.0 L957.6 378.1 L959.3 378.2 L960.9 378.2 L962.6 378.3 L964.2 378.4 L965.8 378.5 L967.5 378.6 L969.1 378.7 L970.8 378.8 L972.4 378.9 L974.0 378.9 L975.7 379.0 L977.3 379.0 L978.9 379.1 L980.6 379.1 L982.2 379.2 L983.9 379.2 L985.5 379.2 L987.1 379.2 L988.8 379.3 L990.4 379.3 L992.1 379.3 L993.7 379.3 L995.3 379.4 L997.0 379.4 L998.6 379.4 L1000.2 379.4 L1001.9 379.4 L1003.5 379.5 L1005.2 379.5 L1006.8 379.5 L1008.4 379.5 L1010.1 379.6 L1011.7 379.6 L1013.4 379.6 L1015.0 379.6 L1016.6 379.6 L1018.3 379.7 L1019.9 379.7 L1021.5 379.7 L1023.2 379.7 L1024.8 379.8 L1026.5 379.8 L1028.1 379.8 L1029.7 379.8 L1031.4 379.8 L1033.0 379.8 L1034.7 379.8 L1036.3 379.8 L1037.9 379.7 L1039.6 379.7 L1041.2 379.7 L1042.8 379.7 L1044.5 379.7 L1046.1 379.6 L1047.8 379.6 L1049.4 379.6 L1051.0 379.6 L1052.7 379.5 L1054.3 379.5 L1056.0 379.5 L1057.6 379.5 L1059.2 379.5 L1060.9 379.4 L1062.5 379.4 L1064.2 379.4 L1065.8 379.4 L1067.4 379.3 L1069.1 379.3 L1070.7 379.3 L1072.3 379.3 L1074.0 379.3 L1075.6 379.2 L1077.3 379.2 L1078.9 379.2 L1080.5 379.1 L1082.2 379.1 L1083.8 379.0 L1085.5 378.9 L1087.1 378.9 L1088.7 378.7 L1090.4 378.6 L1092.0 378.5 L1093.6 378.3 L1095.3 378.2 L1096.9 378.0 L1098.6 377.9 L1100.2 377.7 L1101.8 377.5 L1103.5 377.4 L1105.1 377.2 L1106.8 377.1 L1108.4 376.9 L1110.0 376.7 L1111.7 376.6 L1113.3 376.4 L1114.9 376.2 L1116.6 376.1 L1118.2 375.9 L1119.9 375.7 L1121.5 375.5 L1123.1 375.4 L1124.8 375.2 L1126.4 375.0 L1128.1 374.8 L1129.7 374.6 L1131.3 374.5 L1133.0 374.3 L1134.6 374.1 L1136.2 373.9 L1137.9 373.8 L1139.5 373.6 L1141.2 373.4 L1142.8 373.3 L1144.4 373.1 L1146.1 372.9 L1147.7 372.8 L1149.4 372.6 L1151.0 372.5 L1152.6 372.3 L1154.3 372.1 L1155.9 372.0 L1157.5 371.8 L1159.2 371.7 L1160.8 371.5 L1162.5 371.4 L1164.1 371.2 L1165.7 371.0 L1167.4 370.9 L1169.0 370.7 L1170.7 370.6 L1172.3 370.4 L1173.9 370.3 L1175.6 370.1 L1177.2 370.0 L1178.9 369.8 L1180.5 369.7 L1182.1 369.6 L1183.8 369.4 L1185.4 369.3 L1187.0 369.1 L1188.7 369.0 L1190.3 368.8 L1192.0 368.7 L1193.6 368.5 L1194.7 368.4" fill="none" stroke="#0d8a22" stroke-width="2" stroke-linejoin="round" stroke-linecap="butt"/>
<path d="M102.3 455.0 L103.9 455.0 L105.6 455.0 L107.2 455.0 L108.9 455.0 L110.5 455.0 L112.1 455.0 L113.8 455.0 L115.4 455.0 L117.1 455.0 L118.7 455.0 L120.3 455.0 L122.0 455.0 L123.6 455.0 L125.2 455.0 L126.9 455.0 L128.5 455.0 L130.2 455.0 L131.8 455.0 L133.4 455.0 L135.1 455.0 L136.7 455.0 L138.4 455.0 L140.0 455.0 L141.6 455.0 L143.3 455.0 L144.9 455.0 L146.6 455.0 L148.2 455.0 L149.8 455.0 L151.5 455.0 L153.1 455.0 L154.7 455.0 L156.4 455.0 L158.0 455.0 L159.7 455.0 L161.3 455.0 L162.9 455.0 L164.6 455.0 L166.2 455.0 L167.9 455.0 L169.5 455.0 L171.1 455.0 L172.8 455.0 L174.4 455.0 L176.0 455.0 L177.7 455.0 L179.3 455.0 L181.0 455.0 L182.6 455.0 L184.2 455.0 L185.9 455.0 L187.5 455.0 L189.2 455.0 L190.8 455.0 L192.4 455.0 L194.1 455.0 L195.7 455.0 L197.3 455.0 L199.0 455.0 L200.6 455.0 L202.3 455.0 L203.9 455.0 L205.5 455.0 L207.2 455.0 L208.8 455.0 L210.5 455.0 L212.1 455.0 L213.7 454.9 L215.4 454.8 L217.0 454.7 L218.6 454.6 L220.3 454.5 L221.9 454.4 L223.6 454.2 L225.2 454.1 L226.8 454.0 L228.5 453.9 L230.1 453.8 L231.8 453.7 L233.4 453.6 L235.0 453.4 L236.7 453.3 L238.3 453.0 L239.9 452.8 L241.6 452.5 L243.2 452.2 L244.9 451.9 L246.5 451.5 L248.1 451.1 L249.8 450.7 L251.4 450.2 L253.1 449.6 L254.7 449.0 L256.3 448.2 L258.0 447.4 L259.6 446.4 L261.3 445.3 L262.9 444.1 L264.5 442.7 L266.2 441.3 L267.8 439.6 L269.4 437.8 L271.1 435.9 L272.7 433.8 L274.4 431.6 L276.0 429.3 L277.6 426.9 L279.3 424.3 L280.9 421.7 L282.6 418.9 L284.2 416.1 L285.8 413.2 L287.5 410.3 L289.1 407.2 L290.7 404.2 L292.4 401.1 L294.0 398.0 L295.7 395.0 L297.3 391.9 L298.9 388.9 L300.6 385.9 L302.2 382.9 L303.9 380.0 L305.5 377.1 L307.1 374.4 L308.8 371.7 L310.4 369.0 L312.0 366.5 L313.7 364.1 L315.3 361.9 L317.0 359.7 L318.6 357.7 L320.2 355.9 L321.9 354.3 L323.5 352.8 L325.2 351.6 L326.8 350.5 L328.4 349.5 L330.1 348.6 L331.7 347.8 L333.3 347.1 L335.0 346.4 L336.6 345.9 L338.3 345.3 L339.9 344.9 L341.5 344.5 L343.2 344.1 L344.8 343.7 L346.5 343.4 L348.1 343.2 L349.7 343.0 L351.4 342.8 L353.0 342.7 L354.6 342.6 L356.3 342.5 L357.9 342.4 L359.6 342.3 L361.2 342.3 L362.8 342.2 L364.5 342.1 L366.1 342.1 L367.8 342.0 L369.4 341.9 L371.0 341.9 L372.7 341.8 L374.3 341.8 L376.0 341.8 L377.6 341.7 L379.2 341.7 L380.9 341.7 L382.5 341.8 L384.1 341.8 L385.8 341.8 L387.4 341.8 L389.1 341.8 L390.7 341.9 L392.3 341.9 L394.0 341.9 L395.6 341.9 L397.3 342.0 L398.9 342.0 L400.5 342.0 L402.2 342.1 L403.8 342.1 L405.4 342.2 L407.1 342.2 L408.7 342.3 L410.4 342.3 L412.0 342.4 L413.6 342.5 L415.3 342.5 L416.9 342.6 L418.6 342.7 L420.2 342.7 L421.8 342.8 L423.5 342.9 L425.1 342.9 L426.7 342.9 L428.4 343.0 L430.0 342.9 L431.7 342.9 L433.3 342.9 L434.9 342.8 L436.6 342.7 L438.2 342.6 L439.9 342.5 L441.5 342.4 L443.1 342.3 L444.8 342.2 L446.4 342.1 L448.0 341.9 L449.7 341.8 L451.3 341.7 L453.0 341.6 L454.6 341.5 L456.2 341.4 L457.9 341.3 L459.5 341.2 L461.2 341.2 L462.8 341.1 L464.4 341.0 L466.1 340.9 L467.7 340.9 L469.3 340.8 L471.0 340.7 L472.6 340.7 L474.3 340.6 L475.9 340.5 L477.5 340.5 L479.2 340.4 L480.8 340.4 L482.5 340.4 L484.1 340.4 L485.7 340.4 L487.4 340.4 L489.0 340.5 L490.7 340.6 L492.3 340.7 L493.9 340.8 L495.6 340.9 L497.2 341.0 L498.8 341.1 L500.5 341.2 L502.1 341.3 L503.8 341.5 L505.4 341.6 L507.0 341.7 L508.7 341.8 L510.3 342.0 L512.0 342.1 L513.6 342.3 L515.2 342.5 L516.9 342.7 L518.5 342.9 L520.1 343.1 L521.8 343.3 L523.4 343.5 L525.1 343.7 L526.7 343.9 L528.3 344.1 L530.0 344.3 L531.6 344.5 L533.3 344.7 L534.9 344.9 L536.5 345.0 L538.2 345.1 L539.8 345.2 L541.4 345.2 L543.1 345.2 L544.7 345.2 L546.4 345.1 L548.0 345.0 L549.6 344.9 L551.3 344.8 L552.9 344.7 L554.6 344.6 L556.2 344.4 L557.8 344.3 L559.5 344.2 L561.1 344.1 L562.7 343.9 L564.4 343.8 L566.0 343.6 L567.7 343.4 L569.3 343.2 L570.9 342.9 L572.6 342.6 L574.2 342.3 L575.9 342.0 L577.5 341.8 L579.1 341.4 L580.8 341.1 L582.4 340.8 L584.0 340.5 L585.7 340.2 L587.3 339.9 L589.0 339.5 L590.6 339.1 L592.2 338.7 L593.9 338.2 L595.5 337.6 L597.2 336.9 L598.8 336.2 L600.4 335.5 L602.1 334.7 L603.7 333.9 L605.4 333.1 L607.0 332.3 L608.6 331.4 L610.3 330.6 L611.9 329.8 L613.5 329.0 L615.2 328.2 L616.8 327.3 L618.5 326.5 L620.1 325.7 L621.7 324.8 L623.4 324.0 L625.0 323.1 L626.7 322.3 L628.3 321.4 L629.9 320.5 L631.6 319.7 L633.2 318.8 L634.8 318.0 L636.5 317.1 L638.1 316.2 L639.8 315.4 L641.4 314.5 L643.0 313.7 L644.7 312.9 L646.3 312.1 L648.0 311.4 L649.6 310.7 L651.2 310.0 L652.9 309.4 L654.5 308.8 L656.1 308.3 L657.8 307.8 L659.4 307.2 L661.1 306.7 L662.7 306.2 L664.3 305.7 L666.0 305.2 L667.6 304.7 L669.3 304.2 L670.9 303.7 L672.5 303.2 L674.2 302.8 L675.8 302.5 L677.4 302.1 L679.1 301.9 L680.7 301.6 L682.4 301.4 L684.0 301.2 L685.6 301.1 L687.3 300.9 L688.9 300.7 L690.6 300.6 L692.2 300.4 L693.8 300.3 L695.5 300.1 L697.1 300.0 L698.7 299.9 L700.4 299.8 L702.0 299.7 L703.7 299.7 L705.3 299.7 L706.9 299.7 L708.6 299.8 L710.2 299.8 L711.9 299.9 L713.5 300.0 L715.1 300.2 L716.8 300.3 L718.4 300.4 L720.1 300.5 L721.7 300.6 L723.3 300.7 L725.0 300.9 L726.6 301.0 L728.2 301.1 L729.9 301.3 L731.5 301.5 L733.2 301.7 L734.8 301.9 L736.4 302.1 L738.1 302.3 L739.7 302.6 L741.4 302.8 L743.0 303.1 L744.6 303.3 L746.3 303.6 L747.9 303.8 L749.5 304.1 L751.2 304.3 L752.8 304.6 L754.5 304.8 L756.1 305.1 L757.7 305.4 L759.4 305.7 L761.0 306.0 L762.7 306.3 L764.3 306.6 L765.9 307.0 L767.6 307.3 L769.2 307.6 L770.8 308.0 L772.5 308.3 L774.1 308.7 L775.8 309.0 L777.4 309.3 L779.0 309.7 L780.7 310.0 L782.3 310.3 L784.0 310.7 L785.6 311.0 L787.2 311.4 L788.9 311.7 L790.5 312.1 L792.1 312.5 L793.8 312.8 L795.4 313.2 L797.1 313.5 L798.7 313.9 L800.3 314.2 L802.0 314.6 L803.6 315.0 L805.3 315.3 L806.9 315.7 L808.5 316.0 L810.2 316.4 L811.8 316.7 L813.4 317.1 L815.1 317.4 L816.7 317.7 L818.4 318.0 L820.0 318.4 L821.6 318.7 L823.3 319.0 L824.9 319.3 L826.6 319.6 L828.2 319.9 L829.8 320.2 L831.5 320.6 L833.1 320.9 L834.8 321.2 L836.4 321.5 L838.0 321.8 L839.7 322.1 L841.3 322.4 L842.9 322.6 L844.6 322.9 L846.2 323.2 L847.9 323.4 L849.5 323.7 L851.1 324.0 L852.8 324.2 L854.4 324.5 L856.1 324.7 L857.7 325.0 L859.3 325.2 L861.0 325.5 L862.6 325.8 L864.2 326.1 L865.9 326.3 L867.5 326.6 L869.2 326.9 L870.8 327.2 L872.4 327.5 L874.1 327.9 L875.7 328.2 L877.4 328.5 L879.0 328.8 L880.6 329.2 L882.3 329.5 L883.9 329.8 L885.5 330.1 L887.2 330.5 L888.8 330.8 L890.5 331.1 L892.1 331.4 L893.7 331.7 L895.4 332.0 L897.0 332.3 L898.7 332.6 L900.3 332.9 L901.9 333.2 L903.6 333.5 L905.2 333.8 L906.8 334.1 L908.5 334.4 L910.1 334.7 L911.8 335.0 L913.4 335.3 L915.0 335.6 L916.7 335.8 L918.3 336.1 L920.0 336.4 L921.6 336.7 L923.2 336.9 L924.9 337.1 L926.5 337.4 L928.1 337.6 L929.8 337.8 L931.4 338.0 L933.1 338.2 L934.7 338.5 L936.3 338.7 L938.0 338.9 L939.6 339.1 L941.3 339.3 L942.9 339.5 L944.5 339.7 L946.2 339.9 L947.8 340.1 L949.5 340.3 L951.1 340.5 L952.7 340.7 L954.4 340.9 L956.0 341.0 L957.6 341.2 L959.3 341.4 L960.9 341.6 L962.6 341.7 L964.2 341.9 L965.8 342.1 L967.5 342.2 L969.1 342.4 L970.8 342.6 L972.4 342.7 L974.0 342.9 L975.7 343.1 L977.3 343.2 L978.9 343.4 L980.6 343.5 L982.2 343.7 L983.9 343.9 L985.5 344.0 L987.1 344.2 L988.8 344.3 L990.4 344.5 L992.1 344.7 L993.7 344.8 L995.3 345.0 L997.0 345.1 L998.6 345.3 L1000.2 345.4 L1001.9 345.5 L1003.5 345.7 L1005.2 345.8 L1006.8 345.9 L1008.4 345.9 L1010.1 346.0 L1011.7 346.1 L1013.4 346.2 L1015.0 346.2 L1016.6 346.3 L1018.3 346.4 L1019.9 346.4 L1021.5 346.5 L1023.2 346.6 L1024.8 346.6 L1026.5 346.7 L1028.1 346.8 L1029.7 346.8 L1031.4 346.9 L1033.0 346.9 L1034.7 347.0 L1036.3 347.0 L1037.9 347.0 L1039.6 347.1 L1041.2 347.1 L1042.8 347.1 L1044.5 347.2 L1046.1 347.2 L1047.8 347.2 L1049.4 347.3 L1051.0 347.3 L1052.7 347.3 L1054.3 347.4 L1056.0 347.4 L1057.6 347.4 L1059.2 347.4 L1060.9 347.4 L1062.5 347.4 L1064.2 347.4 L1065.8 347.4 L1067.4 347.4 L1069.1 347.4 L1070.7 347.4 L1072.3 347.4 L1074.0 347.4 L1075.6 347.3 L1077.3 347.3 L1078.9 347.3 L1080.5 347.3 L1082.2 347.3 L1083.8 347.2 L1085.5 347.2 L1087.1 347.1 L1088.7 347.0 L1090.4 346.9 L1092.0 346.8 L1093.6 346.7 L1095.3 346.6 L1096.9 346.5 L1098.6 346.4 L1100.2 346.3 L1101.8 346.2 L1103.5 346.1 L1105.1 345.9 L1106.8 345.8 L1108.4 345.7 L1110.0 345.6 L1111.7 345.5 L1113.3 345.3 L1114.9 345.2 L1116.6 345.0 L1118.2 344.9 L1119.9 344.7 L1121.5 344.6 L1123.1 344.4 L1124.8 344.3 L1126.4 344.1 L1128.1 344.0 L1129.7 343.8 L1131.3 343.6 L1133.0 343.5 L1134.6 343.3 L1136.2 343.2 L1137.9 343.0 L1139.5 342.9 L1141.2 342.7 L1142.8 342.6 L1144.4 342.5 L1146.1 342.3 L1147.7 342.2 L1149.4 342.1 L1151.0 342.0 L1152.6 341.8 L1154.3 341.7 L1155.9 341.6 L1157.5 341.5 L1159.2 341.4 L1160.8 341.2 L1162.5 341.1 L1164.1 341.0 L1165.7 340.9 L1167.4 340.7 L1169.0 340.6 L1170.7 340.5 L1172.3 340.4 L1173.9 340.2 L1175.6 340.1 L1177.2 340.0 L1178.9 339.9 L1180.5 339.7 L1182.1 339.6 L1183.8 339.5 L1185.4 339.4 L1187.0 339.2 L1188.7 339.1 L1190.3 339.0 L1192.0 338.9 L1193.6 338.7 L1194.7 338.7" fill="none" stroke="#86bc14" stroke-width="2" stroke-linejoin="round" stroke-linecap="butt"/>
<path d="M102.3 455.0 L103.9 455.0 L105.6 455.0 L107.2 455.0 L108.9 455.0 L110.5 455.0 L112.1 455.0 L113.8 455.0 L115.4 455.0 L117.1 455.0 L118.7 455.0 L120.3 455.0 L122.0 455.0 L123.6 455.0 L125.2 455.0 L126.9 455.0 L128.5 455.0 L130.2 455.0 L131.8 455.0 L133.4 455.0 L135.1 455.0 L136.7 455.0 L138.4 455.0 L140.0 455.0 L141.6 455.0 L143.3 455.0 L144.9 455.0 L146.6 455.0 L148.2 455.0 L149.8 455.0 L151.5 455.0 L153.1 455.0 L154.7 455.0 L156.4 455.0 L158.0 455.0 L159.7 455.0 L161.3 455.0 L162.9 455.0 L164.6 455.0 L166.2 455.0 L167.9 455.0 L169.5 455.0 L171.1 455.0 L172.8 455.0 L174.4 455.0 L176.0 455.0 L177.7 455.0 L179.3 455.0 L181.0 455.0 L182.6 455.0 L184.2 455.0 L185.9 455.0 L187.5 455.0 L189.2 455.0 L190.8 455.0 L192.4 455.0 L194.1 455.0 L195.7 455.0 L197.3 455.0 L199.0 455.0 L200.6 455.0 L202.3 455.0 L203.9 455.0 L205.5 455.0 L207.2 455.0 L208.8 455.0 L210.5 455.0 L212.1 454.8 L213.7 454.4 L215.4 453.8 L217.0 453.1 L218.6 452.2 L220.3 450.9 L221.9 449.4 L223.6 447.7 L225.2 445.7 L226.8 443.5 L228.5 441.3 L230.1 439.0 L231.8 436.8 L233.4 434.6 L235.0 432.5 L236.7 430.3 L238.3 428.2 L239.9 426.0 L241.6 423.7 L243.2 421.4 L244.9 419.0 L246.5 416.4 L248.1 413.7 L249.8 410.9 L251.4 408.0 L253.1 405.0 L254.7 401.9 L256.3 398.7 L258.0 395.4 L259.6 392.1 L261.3 388.7 L262.9 385.2 L264.5 381.7 L266.2 378.1 L267.8 374.4 L269.4 370.7 L271.1 366.8 L272.7 362.9 L274.4 358.9 L276.0 354.8 L277.6 350.6 L279.3 346.4 L280.9 342.1 L282.6 337.8 L284.2 333.5 L285.8 329.1 L287.5 324.7 L289.1 320.4 L290.7 316.0 L292.4 311.7 L294.0 307.5 L295.7 303.3 L297.3 299.2 L298.9 295.1 L300.6 291.1 L302.2 287.1 L303.9 283.2 L305.5 279.5 L307.1 275.8 L308.8 272.4 L310.4 269.1 L312.0 266.0 L313.7 263.1 L315.3 260.4 L317.0 257.9 L318.6 255.7 L320.2 253.7 L321.9 252.0 L323.5 250.4 L325.2 249.1 L326.8 248.0 L328.4 247.0 L330.1 246.2 L331.7 245.5 L333.3 245.0 L335.0 244.5 L336.6 244.1 L338.3 243.8 L339.9 243.5 L341.5 243.2 L343.2 243.0 L344.8 242.8 L346.5 242.5 L348.1 242.4 L349.7 242.2 L351.4 242.1 L353.0 242.0 L354.6 241.9 L356.3 241.9 L357.9 241.8 L359.6 241.8 L361.2 241.7 L362.8 241.7 L364.5 241.6 L366.1 241.6 L367.8 241.5 L369.4 241.5 L371.0 241.5 L372.7 241.4 L374.3 241.4 L376.0 241.4 L377.6 241.3 L379.2 241.3 L380.9 241.3 L382.5 241.3 L384.1 241.3 L385.8 241.3 L387.4 241.3 L389.1 241.3 L390.7 241.3 L392.3 241.3 L394.0 241.3 L395.6 241.3 L397.3 241.3 L398.9 241.3 L400.5 241.3 L402.2 241.3 L403.8 241.3 L405.4 241.4 L407.1 241.4 L408.7 241.4 L410.4 241.4 L412.0 241.4 L413.6 241.5 L415.3 241.5 L416.9 241.5 L418.6 241.5 L420.2 241.6 L421.8 241.6 L423.5 241.6 L425.1 241.6 L426.7 241.6 L428.4 241.6 L430.0 241.5 L431.7 241.5 L433.3 241.4 L434.9 241.3 L436.6 241.2 L438.2 241.1 L439.9 241.0 L441.5 240.9 L443.1 240.8 L444.8 240.7 L446.4 240.6 L448.0 240.5 L449.7 240.4 L451.3 240.3 L453.0 240.2 L454.6 240.1 L456.2 240.0 L457.9 239.9 L459.5 239.8 L461.2 239.7 L462.8 239.6 L464.4 239.5 L466.1 239.5 L467.7 239.4 L469.3 239.3 L471.0 239.3 L472.6 239.2 L474.3 239.1 L475.9 239.1 L477.5 239.0 L479.2 239.0 L480.8 238.9 L482.5 238.9 L484.1 239.0 L485.7 239.0 L487.4 239.1 L489.0 239.2 L490.7 239.4 L492.3 239.5 L493.9 239.7 L495.6 239.9 L497.2 240.0 L498.8 240.2 L500.5 240.4 L502.1 240.6 L503.8 240.8 L505.4 240.9 L507.0 241.1 L508.7 241.3 L510.3 241.6 L512.0 241.8 L513.6 242.0 L515.2 242.3 L516.9 242.6 L518.5 242.9 L520.1 243.2 L521.8 243.5 L523.4 243.8 L525.1 244.1 L526.7 244.4 L528.3 244.7 L530.0 245.0 L531.6 245.3 L533.3 245.5 L534.9 245.8 L536.5 246.0 L538.2 246.2 L539.8 246.4 L541.4 246.5 L543.1 246.6 L544.7 246.7 L546.4 246.7 L548.0 246.7 L549.6 246.7 L551.3 246.7 L552.9 246.7 L554.6 246.7 L556.2 246.7 L557.8 246.7 L559.5 246.7 L561.1 246.7 L562.7 246.7 L564.4 246.7 L566.0 246.7 L567.7 246.7 L569.3 246.7 L570.9 246.7 L572.6 246.6 L574.2 246.6 L575.9 246.6 L577.5 246.5 L579.1 246.5 L580.8 246.5 L582.4 246.4 L584.0 246.4 L585.7 246.3 L587.3 246.3 L589.0 246.2 L590.6 246.1 L592.2 245.9 L593.9 245.7 L595.5 245.4 L597.2 245.1 L598.8 244.7 L600.4 244.3 L602.1 243.9 L603.7 243.4 L605.4 243.0 L607.0 242.5 L608.6 242.0 L610.3 241.6 L611.9 241.1 L613.5 240.6 L615.2 240.1 L616.8 239.7 L618.5 239.2 L620.1 238.7 L621.7 238.3 L623.4 237.8 L625.0 237.3 L626.7 236.8 L628.3 236.4 L629.9 235.9 L631.6 235.4 L633.2 235.0 L634.8 234.5 L636.5 234.0 L638.1 233.5 L639.8 233.1 L641.4 232.6 L643.0 232.2 L644.7 231.8 L646.3 231.5 L648.0 231.2 L649.6 231.0 L651.2 230.9 L652.9 230.8 L654.5 230.8 L656.1 230.8 L657.8 230.8 L659.4 230.9 L661.1 231.0 L662.7 231.0 L664.3 231.1 L666.0 231.2 L667.6 231.2 L669.3 231.3 L670.9 231.4 L672.5 231.5 L674.2 231.6 L675.8 231.7 L677.4 231.8 L679.1 231.9 L680.7 232.1 L682.4 232.2 L684.0 232.3 L685.6 232.5 L687.3 232.7 L688.9 232.8 L690.6 233.0 L692.2 233.1 L693.8 233.3 L695.5 233.5 L697.1 233.6 L698.7 233.8 L700.4 234.1 L702.0 234.3 L703.7 234.6 L705.3 235.0 L706.9 235.3 L708.6 235.8 L710.2 236.2 L711.9 236.7 L713.5 237.1 L715.1 237.6 L716.8 238.1 L718.4 238.5 L720.1 239.0 L721.7 239.5 L723.3 239.9 L725.0 240.4 L726.6 240.9 L728.2 241.4 L729.9 241.9 L731.5 242.5 L733.2 243.0 L734.8 243.6 L736.4 244.1 L738.1 244.7 L739.7 245.3 L741.4 245.9 L743.0 246.4 L744.6 247.0 L746.3 247.6 L747.9 248.2 L749.5 248.8 L751.2 249.4 L752.8 249.9 L754.5 250.5 L756.1 251.1 L757.7 251.6 L759.4 252.1 L761.0 252.7 L762.7 253.2 L764.3 253.7 L765.9 254.2 L767.6 254.7 L769.2 255.2 L770.8 255.7 L772.5 256.2 L774.1 256.7 L775.8 257.2 L777.4 257.6 L779.0 258.1 L780.7 258.6 L782.3 259.2 L784.0 259.7 L785.6 260.2 L787.2 260.7 L788.9 261.2 L790.5 261.8 L792.1 262.3 L793.8 262.8 L795.4 263.4 L797.1 263.9 L798.7 264.4 L800.3 265.0 L802.0 265.5 L803.6 266.1 L805.3 266.6 L806.9 267.1 L808.5 267.6 L810.2 268.1 L811.8 268.6 L813.4 269.1 L815.1 269.6 L816.7 270.1 L818.4 270.5 L820.0 270.9 L821.6 271.4 L823.3 271.8 L824.9 272.2 L826.6 272.7 L828.2 273.1 L829.8 273.5 L831.5 273.9 L833.1 274.4 L834.8 274.8 L836.4 275.2 L838.0 275.6 L839.7 276.0 L841.3 276.5 L842.9 276.9 L844.6 277.3 L846.2 277.7 L847.9 278.1 L849.5 278.5 L851.1 278.9 L852.8 279.3 L854.4 279.7 L856.1 280.1 L857.7 280.5 L859.3 280.9 L861.0 281.3 L862.6 281.7 L864.2 282.2 L865.9 282.6 L867.5 283.0 L869.2 283.4 L870.8 283.9 L872.4 284.3 L874.1 284.8 L875.7 285.2 L877.4 285.6 L879.0 286.1 L880.6 286.5 L882.3 287.0 L883.9 287.4 L885.5 287.9 L887.2 288.3 L888.8 288.8 L890.5 289.2 L892.1 289.7 L893.7 290.1 L895.4 290.6 L897.0 291.0 L898.7 291.4 L900.3 291.9 L901.9 292.3 L903.6 292.7 L905.2 293.1 L906.8 293.6 L908.5 294.0 L910.1 294.4 L911.8 294.8 L913.4 295.3 L915.0 295.7 L916.7 296.1 L918.3 296.5 L920.0 296.9 L921.6 297.2 L923.2 297.6 L924.9 297.9 L926.5 298.2 L928.1 298.5 L929.8 298.8 L931.4 299.1 L933.1 299.4 L934.7 299.7 L936.3 300.0 L938.0 300.2 L939.6 300.5 L941.3 300.8 L942.9 301.1 L944.5 301.4 L946.2 301.6 L947.8 301.9 L949.5 302.1 L951.1 302.4 L952.7 302.7 L954.4 302.9 L956.0 303.1 L957.6 303.4 L959.3 303.6 L960.9 303.9 L962.6 304.1 L964.2 304.3 L965.8 304.6 L967.5 304.8 L969.1 305.0 L970.8 305.3 L972.4 305.5 L974.0 305.7 L975.7 305.9 L977.3 306.2 L978.9 306.4 L980.6 306.6 L982.2 306.8 L983.9 307.0 L985.5 307.2 L987.1 307.4 L988.8 307.6 L990.4 307.8 L992.1 308.0 L993.7 308.2 L995.3 308.4 L997.0 308.6 L998.6 308.8 L1000.2 309.0 L1001.9 309.2 L1003.5 309.3 L1005.2 309.5 L1006.8 309.6 L1008.4 309.8 L1010.1 309.9 L1011.7 310.0 L1013.4 310.1 L1015.0 310.2 L1016.6 310.3 L1018.3 310.5 L1019.9 310.6 L1021.5 310.7 L1023.2 310.8 L1024.8 310.9 L1026.5 311.0 L1028.1 311.1 L1029.7 311.2 L1031.4 311.3 L1033.0 311.4 L1034.7 311.5 L1036.3 311.5 L1037.9 311.6 L1039.6 311.7 L1041.2 311.7 L1042.8 311.8 L1044.5 311.9 L1046.1 311.9 L1047.8 312.0 L1049.4 312.1 L1051.0 312.1 L1052.7 312.2 L1054.3 312.3 L1056.0 312.3 L1057.6 312.4 L1059.2 312.4 L1060.9 312.4 L1062.5 312.4 L1064.2 312.4 L1065.8 312.4 L1067.4 312.5 L1069.1 312.5 L1070.7 312.5 L1072.3 312.5 L1074.0 312.5 L1075.6 312.5 L1077.3 312.5 L1078.9 312.4 L1080.5 312.4 L1082.2 312.4 L1083.8 312.4 L1085.5 312.4 L1087.1 312.4 L1088.7 312.3 L1090.4 312.3 L1092.0 312.3 L1093.6 312.2 L1095.3 312.2 L1096.9 312.1 L1098.6 312.1 L1100.2 312.1 L1101.8 312.0 L1103.5 312.0 L1105.1 311.9 L1106.8 311.9 L1108.4 311.8 L1110.0 311.8 L1111.7 311.7 L1113.3 311.7 L1114.9 311.6 L1116.6 311.5 L1118.2 311.4 L1119.9 311.4 L1121.5 311.3 L1123.1 311.2 L1124.8 311.1 L1126.4 311.1 L1128.1 311.0 L1129.7 310.9 L1131.3 310.8 L1133.0 310.7 L1134.6 310.7 L1136.2 310.6 L1137.9 310.5 L1139.5 310.4 L1141.2 310.4 L1142.8 310.3 L1144.4 310.2 L1146.1 310.1 L1147.7 310.0 L1149.4 310.0 L1151.0 309.9 L1152.6 309.8 L1154.3 309.7 L1155.9 309.6 L1157.5 309.6 L1159.2 309.5 L1160.8 309.4 L1162.5 309.3 L1164.1 309.3 L1165.7 309.2 L1167.4 309.1 L1169.0 309.0 L1170.7 309.0 L1172.3 308.9 L1173.9 308.8 L1175.6 308.8 L1177.2 308.7 L1178.9 308.6 L1180.5 308.5 L1182.1 308.5 L1183.8 308.4 L1185.4 308.3 L1187.0 308.3 L1188.7 308.2 L1190.3 308.1 L1192.0 308.1 L1193.6 308.0 L1194.7 308.0" fill="none" stroke="#ff8b33" stroke-width="2" stroke-linejoin="round" stroke-linecap="butt"/>
<path d="M102.3 455.0 L103.9 455.0 L105.6 455.0 L107.2 455.0 L108.9 455.0 L110.5 455.0 L112.1 455.0 L113.8 455.0 L115.4 455.0 L117.1 455.0 L118.7 455.0 L120.3 455.0 L122.0 455.0 L123.6 455.0 L125.2 455.0 L126.9 455.0 L128.5 455.0 L130.2 455.0 L131.8 455.0 L133.4 455.0 L135.1 455.0 L136.7 455.0 L138.4 455.0 L140.0 455.0 L141.6 455.0 L143.3 455.0 L144.9 455.0 L146.6 455.0 L148.2 455.0 L149.8 455.0 L151.5 455.0 L153.1 455.0 L154.7 455.0 L156.4 455.0 L158.0 455.0 L159.7 455.0 L161.3 455.0 L162.9 455.0 L164.6 455.0 L166.2 455.0 L167.9 455.0 L169.5 455.0 L171.1 455.0 L172.8 455.0 L174.4 455.0 L176.0 455.0 L177.7 455.0 L179.3 455.0 L181.0 455.0 L182.6 455.0 L184.2 455.0 L185.9 455.0 L187.5 455.0 L189.2 455.0 L190.8 455.0 L192.4 455.0 L194.1 455.0 L195.7 455.0 L197.3 455.0 L199.0 455.0 L200.6 455.0 L202.3 455.0 L203.9 455.0 L205.5 455.0 L207.2 455.0 L208.8 455.0 L210.5 455.0 L212.1 455.0 L213.7 455.0 L215.4 455.0 L217.0 455.0 L218.6 455.0 L220.3 455.0 L221.9 455.0 L223.6 455.0 L225.2 455.0 L226.8 455.0 L228.5 455.0 L230.1 455.0 L231.8 455.0 L233.4 455.0 L235.0 455.0 L236.7 455.0 L238.3 455.0 L239.9 455.0 L241.6 455.0 L243.2 455.0 L244.9 455.0 L246.5 455.0 L248.1 455.0 L249.8 455.0 L251.4 455.0 L253.1 455.0 L254.7 455.0 L256.3 455.0 L258.0 455.0 L259.6 455.0 L261.3 455.0 L262.9 455.0 L264.5 455.0 L266.2 454.9 L267.8 454.7 L269.4 454.5 L271.1 454.2 L272.7 453.9 L274.4 453.6 L276.0 453.3 L277.6 453.0 L279.3 452.7 L280.9 452.4 L282.6 452.1 L284.2 451.8 L285.8 451.5 L287.5 451.2 L289.1 450.9 L290.7 450.6 L292.4 450.3 L294.0 450.1 L295.7 449.8 L297.3 449.5 L298.9 449.3 L300.6 449.0 L302.2 448.7 L303.9 448.5 L305.5 448.2 L307.1 447.9 L308.8 447.7 L310.4 447.4 L312.0 447.2 L313.7 446.9 L315.3 446.7 L317.0 446.4 L318.6 446.2 L320.2 446.0 L321.9 445.7 L323.5 445.5 L325.2 445.3 L326.8 445.1 L328.4 444.9 L330.1 444.8 L331.7 444.6 L333.3 444.4 L335.0 444.2 L336.6 444.0 L338.3 443.9 L339.9 443.7 L341.5 443.5 L343.2 443.3 L344.8 443.2 L346.5 443.0 L348.1 442.8 L349.7 442.6 L351.4 442.5 L353.0 442.3 L354.6 442.2 L356.3 442.0 L357.9 441.8 L359.6 441.7 L361.2 441.5 L362.8 441.4 L364.5 441.2 L366.1 441.1 L367.8 440.9 L369.4 440.8 L371.0 440.6 L372.7 440.5 L374.3 440.4 L376.0 440.3 L377.6 440.2 L379.2 440.2 L380.9 440.2 L382.5 440.1 L384.1 440.1 L385.8 440.1 L387.4 440.1 L389.1 440.1 L390.7 440.1 L392.3 440.1 L394.0 440.1 L395.6 440.1 L397.3 440.1 L398.9 440.1 L400.5 440.1 L402.2 440.1 L403.8 440.1 L405.4 440.1 L407.1 440.1 L408.7 440.1 L410.4 440.1 L412.0 440.1 L413.6 440.1 L415.3 440.1 L416.9 440.1 L418.6 440.1 L420.2 440.1 L421.8 440.1 L423.5 440.1 L425.1 440.1 L426.7 440.1 L428.4 440.1 L430.0 440.1 L431.7 440.1 L433.3 440.0 L434.9 440.0 L436.6 439.9 L438.2 439.9 L439.9 439.9 L441.5 439.8 L443.1 439.8 L444.8 439.7 L446.4 439.7 L448.0 439.6 L449.7 439.6 L451.3 439.5 L453.0 439.5 L454.6 439.5 L456.2 439.4 L457.9 439.4 L459.5 439.3 L461.2 439.3 L462.8 439.2 L464.4 439.2 L466.1 439.1 L467.7 439.1 L469.3 439.1 L471.0 439.0 L472.6 439.0 L474.3 438.9 L475.9 438.9 L477.5 438.8 L479.2 438.8 L480.8 438.8 L482.5 438.7 L484.1 438.7 L485.7 438.7 L487.4 438.7 L489.0 438.7 L490.7 438.7 L492.3 438.7 L493.9 438.7 L495.6 438.7 L497.2 438.7 L498.8 438.7 L500.5 438.7 L502.1 438.7 L503.8 438.8 L505.4 438.8 L507.0 438.8 L508.7 438.8 L510.3 438.8 L512.0 438.8 L513.6 438.8 L515.2 438.9 L516.9 438.9 L518.5 438.9 L520.1 438.9 L521.8 438.9 L523.4 439.0 L525.1 439.0 L526.7 439.0 L528.3 439.0 L530.0 439.1 L531.6 439.1 L533.3 439.1 L534.9 439.1 L536.5 439.1 L538.2 439.1 L539.8 439.1 L541.4 439.1 L543.1 439.1 L544.7 439.1 L546.4 439.0 L548.0 439.0 L549.6 439.0 L551.3 438.9 L552.9 438.9 L554.6 438.9 L556.2 438.8 L557.8 438.8 L559.5 438.8 L561.1 438.7 L562.7 438.7 L564.4 438.6 L566.0 438.5 L567.7 438.4 L569.3 438.2 L570.9 438.1 L572.6 437.9 L574.2 437.7 L575.9 437.5 L577.5 437.3 L579.1 437.1 L580.8 436.9 L582.4 436.7 L584.0 436.5 L585.7 436.3 L587.3 436.1 L589.0 435.8 L590.6 435.6 L592.2 435.3 L593.9 434.9 L595.5 434.5 L597.2 434.1 L598.8 433.6 L600.4 433.2 L602.1 432.6 L603.7 432.1 L605.4 431.6 L607.0 431.0 L608.6 430.5 L610.3 430.0 L611.9 429.4 L613.5 428.9 L615.2 428.4 L616.8 427.8 L618.5 427.3 L620.1 426.8 L621.7 426.3 L623.4 425.8 L625.0 425.3 L626.7 424.9 L628.3 424.4 L629.9 424.0 L631.6 423.5 L633.2 423.1 L634.8 422.6 L636.5 422.2 L638.1 421.7 L639.8 421.3 L641.4 420.8 L643.0 420.4 L644.7 419.9 L646.3 419.5 L648.0 419.1 L649.6 418.7 L651.2 418.3 L652.9 417.9 L654.5 417.5 L656.1 417.2 L657.8 416.8 L659.4 416.5 L661.1 416.1 L662.7 415.7 L664.3 415.4 L666.0 415.0 L667.6 414.7 L669.3 414.3 L670.9 414.0 L672.5 413.6 L674.2 413.3 L675.8 412.9 L677.4 412.6 L679.1 412.3 L680.7 412.0 L682.4 411.7 L684.0 411.4 L685.6 411.2 L687.3 410.9 L688.9 410.6 L690.6 410.3 L692.2 410.0 L693.8 409.8 L695.5 409.5 L697.1 409.2 L698.7 408.9 L700.4 408.7 L702.0 408.4 L703.7 408.2 L705.3 408.0 L706.9 407.8 L708.6 407.6 L710.2 407.4 L711.9 407.2 L713.5 407.1 L715.1 406.9 L716.8 406.7 L718.4 406.6 L720.1 406.4 L721.7 406.2 L723.3 406.1 L725.0 405.9 L726.6 405.8 L728.2 405.6 L729.9 405.5 L731.5 405.3 L733.2 405.2 L734.8 405.1 L736.4 405.0 L738.1 404.9 L739.7 404.8 L741.4 404.6 L743.0 404.5 L744.6 404.4 L746.3 404.3 L747.9 404.2 L749.5 404.1 L751.2 404.1 L752.8 404.0 L754.5 403.9 L756.1 403.8 L757.7 403.7 L759.4 403.7 L761.0 403.6 L762.7 403.6 L764.3 403.5 L765.9 403.5 L767.6 403.5 L769.2 403.5 L770.8 403.4 L772.5 403.4 L774.1 403.4 L775.8 403.4 L777.4 403.4 L779.0 403.3 L780.7 403.3 L782.3 403.3 L784.0 403.3 L785.6 403.3 L787.2 403.3 L788.9 403.3 L790.5 403.3 L792.1 403.3 L793.8 403.3 L795.4 403.3 L797.1 403.3 L798.7 403.3 L800.3 403.3 L802.0 403.4 L803.6 403.4 L805.3 403.4 L806.9 403.4 L808.5 403.4 L810.2 403.5 L811.8 403.5 L813.4 403.5 L815.1 403.6 L816.7 403.7 L818.4 403.7 L820.0 403.8 L821.6 403.9 L823.3 403.9 L824.9 404.0 L826.6 404.1 L828.2 404.2 L829.8 404.3 L831.5 404.3 L833.1 404.4 L834.8 404.5 L836.4 404.6 L838.0 404.6 L839.7 404.7 L841.3 404.7 L842.9 404.8 L844.6 404.8 L846.2 404.9 L847.9 404.9 L849.5 404.9 L851.1 405.0 L852.8 405.0 L854.4 405.0 L856.1 405.1 L857.7 405.1 L859.3 405.1 L861.0 405.2 L862.6 405.2 L864.2 405.3 L865.9 405.3 L867.5 405.4 L869.2 405.4 L870.8 405.5 L872.4 405.5 L874.1 405.6 L875.7 405.7 L877.4 405.7 L879.0 405.8 L880.6 405.9 L882.3 405.9 L883.9 406.0 L885.5 406.1 L887.2 406.1 L888.8 406.2 L890.5 406.3 L892.1 406.3 L893.7 406.4 L895.4 406.5 L897.0 406.5 L898.7 406.6 L900.3 406.7 L901.9 406.7 L903.6 406.8 L905.2 406.9 L906.8 406.9 L908.5 407.0 L910.1 407.1 L911.8 407.1 L913.4 407.2 L915.0 407.3 L916.7 407.3 L918.3 407.4 L920.0 407.4 L921.6 407.5 L923.2 407.6 L924.9 407.6 L926.5 407.6 L928.1 407.7 L929.8 407.7 L931.4 407.7 L933.1 407.8 L934.7 407.8 L936.3 407.8 L938.0 407.9 L939.6 407.9 L941.3 408.0 L942.9 408.0 L944.5 408.0 L946.2 408.1 L947.8 408.1 L949.5 408.1 L951.1 408.2 L952.7 408.2 L954.4 408.3 L956.0 408.3 L957.6 408.4 L959.3 408.5 L960.9 408.5 L962.6 408.6 L964.2 408.6 L965.8 408.7 L967.5 408.7 L969.1 408.8 L970.8 408.8 L972.4 408.9 L974.0 408.9 L975.7 409.0 L977.3 409.0 L978.9 409.0 L980.6 409.1 L982.2 409.1 L983.9 409.1 L985.5 409.1 L987.1 409.1 L988.8 409.1 L990.4 409.1 L992.1 409.2 L993.7 409.2 L995.3 409.2 L997.0 409.2 L998.6 409.2 L1000.2 409.2 L1001.9 409.2 L1003.5 409.3 L1005.2 409.3 L1006.8 409.3 L1008.4 409.4 L1010.1 409.4 L1011.7 409.5 L1013.4 409.5 L1015.0 409.5 L1016.6 409.6 L1018.3 409.6 L1019.9 409.7 L1021.5 409.7 L1023.2 409.8 L1024.8 409.8 L1026.5 409.8 L1028.1 409.9 L1029.7 409.9 L1031.4 409.9 L1033.0 409.9 L1034.7 409.9 L1036.3 409.9 L1037.9 409.8 L1039.6 409.8 L1041.2 409.8 L1042.8 409.7 L1044.5 409.7 L1046.1 409.7 L1047.8 409.6 L1049.4 409.6 L1051.0 409.6 L1052.7 409.5 L1054.3 409.5 L1056.0 409.4 L1057.6 409.4 L1059.2 409.3 L1060.9 409.3 L1062.5 409.2 L1064.2 409.1 L1065.8 409.0 L1067.4 408.9 L1069.1 408.8 L1070.7 408.7 L1072.3 408.7 L1074.0 408.6 L1075.6 408.5 L1077.3 408.4 L1078.9 408.3 L1080.5 408.2 L1082.2 408.1 L1083.8 408.0 L1085.5 407.9 L1087.1 407.7 L1088.7 407.6 L1090.4 407.5 L1092.0 407.3 L1093.6 407.2 L1095.3 407.0 L1096.9 406.8 L1098.6 406.7 L1100.2 406.5 L1101.8 406.4 L1103.5 406.2 L1105.1 406.1 L1106.8 405.9 L1108.4 405.8 L1110.0 405.6 L1111.7 405.5 L1113.3 405.3 L1114.9 405.2 L1116.6 405.0 L1118.2 404.9 L1119.9 404.8 L1121.5 404.7 L1123.1 404.5 L1124.8 404.4 L1126.4 404.3 L1128.1 404.2 L1129.7 404.0 L1131.3 403.9 L1133.0 403.8 L1134.6 403.7 L1136.2 403.5 L1137.9 403.4 L1139.5 403.3 L1141.2 403.1 L1142.8 403.0 L1144.4 402.9 L1146.1 402.7 L1147.7 402.6 L1149.4 402.4 L1151.0 402.3 L1152.6 402.1 L1154.3 402.0 L1155.9 401.9 L1157.5 401.7 L1159.2 401.6 L1160.8 401.4 L1162.5 401.3 L1164.1 401.1 L1165.7 401.0 L1167.4 400.8 L1169.0 400.7 L1170.7 400.5 L1172.3 400.4 L1173.9 400.2 L1175.6 400.0 L1177.2 399.9 L1178.9 399.7 L1180.5 399.6 L1182.1 399.4 L1183.8 399.2 L1185.4 399.1 L1187.0 398.9 L1188.7 398.8 L1190.3 398.6 L1192.0 398.5 L1193.6 398.3 L1194.7 398.2" fill="none" stroke="#ac1446" stroke-width="2" stroke-linejoin="round" stroke-linecap="butt"/>
<line x1="75.5" y1="80" x2="75.5" y2="456" stroke="#c4c4c4"/>
<line x1="75" y1="455.5" x2="1223" y2="455.5" stroke="#c4c4c4"/>
<line x1="71.0" y1="455.5" x2="75" y2="455.5" stroke="#c4c4c4"/>
<line x1="72.0" y1="448.5" x2="75" y2="448.5" stroke="#c4c4c4"/>
<line x1="72.0" y1="440.5" x2="75" y2="440.5" stroke="#c4c4c4"/>
<line x1="72.0" y1="433.5" x2="75" y2="433.5" stroke="#c4c4c4"/>
<line x1="72.0" y1="425.5" x2="75" y2="425.5" stroke="#c4c4c4"/>
<line x1="71.0" y1="418.5" x2="75" y2="418.5" stroke="#c4c4c4"/>
<line x1="72.0" y1="410.5" x2="75" y2="410.5" stroke="#c4c4c4"/>
<line x1="72.0" y1="403.5" x2="75" y2="403.5" stroke="#c4c4c4"/>
<line x1="72.0" y1="395.5" x2="75" y2="395.5" stroke="#c4c4c4"/>
<line x1="72.0" y1="388.5" x2="75" y2="388.5" stroke="#c4c4c4"/>
<line x1="71.0" y1="380.5" x2="75" y2="380.5" stroke="#c4c4c4"/>
<line x1="72.0" y1="373.5" x2="75" y2="373.5" stroke="#c4c4c4"/>
<line x1="72.0" y1="365.5" x2="75" y2="365.5" stroke="#c4c4c4"/>
<line x1="72.0" y1="358.5" x2="75" y2="358.5" stroke="#c4c4c4"/>
<line x1="72.0" y1="350.5" x2="75" y2="350.5" stroke="#c4c4c4"/>
<line x1="71.0" y1="343.5" x2="75" y2="343.5" stroke="#c4c4c4"/>
<line x1="72.0" y1="335.5" x2="75" y2="335.5" stroke="#c4c4c4"/>
<line x1="72.0" y1="328.5" x2="75" y2="328.5" stroke="#c4c4c4"/>
<line x1="72.0" y1="320.5" x2="75" y2="320.5" stroke="#c4c4c4"/>
<line x1="72.0" y1="313.5" x2="75" y2="313.5" stroke="#c4c4c4"/>
<line x1="71.0" y1="305.5" x2="75" y2="305.5" stroke="#c4c4c4"/>
<line x1="72.0" y1="298.5" x2="75" y2="298.5" stroke="#c4c4c4"/>
<line x1="72.0" y1="290.5" x2="75" y2="290.5" stroke="#c4c4c4"/>
<line x1="72.0" y1="283.5" x2="75" y2="283.5" stroke="#c4c4c4"/>
<line x1="72.0" y1="275.5" x2="75" y2="275.5" stroke="#c4c4c4"/>
<line x1="71.0" y1="268.5" x2="75" y2="268.5" stroke="#c4c4c4"/>
<line x1="72.0" y1="260.5" x2="75" y2="260.5" stroke="#c4c4c4"/>
<line x1="72.0" y1="253.5" x2="75" y2="253.5" stroke="#c4c4c4"/>
<line x1="72.0" y1="245.5" x2="75" y2="245.5" stroke="#c4c4c4"/>
<line x1="72.0" y1="238.5" x2="75" y2="238.5" stroke="#c4c4c4"/>
<line x1="71.0" y1="230.5" x2="75" y2="230.5" stroke="#c4c4c4"/>
<line x1="72.0" y1="223.5" x2="75" y2="223.5" stroke="#c4c4c4"/>
<line x1="72.0" y1="215.5" x2="75" y2="215.5" stroke="#c4c4c4"/>
<line x1="72.0" y1="208.5" x2="75" y2="208.5" stroke="#c4c4c4"/>
<line x1="72.0" y1="200.5" x2="75" y2="200.5" stroke="#c4c4c4"/>
<line x1="71.0" y1="193.5" x2="75" y2="193.5" stroke="#c4c4c4"/>
<line x1="72.0" y1="185.5" x2="75" y2="185.5" stroke="#c4c4c4"/>
<line x1="72.0" y1="178.5" x2="75" y2="178.5" stroke="#c4c4c4"/>
<line x1="72.0" y1="170.5" x2="75" y2="170.5" stroke="#c4c4c4"/>
<line x1="72.0" y1="163.5" x2="75" y2="163.5" stroke="#c4c4c4"/>
<line x1="71.0" y1="155.5" x2="75" y2="155.5" stroke="#c4c4c4"/>
<line x1="72.0" y1="148.5" x2="75" y2="148.5" stroke="#c4c4c4"/>
<line x1="72.0" y1="140.5" x2="75" y2="140.5" stroke="#c4c4c4"/>
<line x1="72.0" y1="133.5" x2="75" y2="133.5" stroke="#c4c4c4"/>
<line x1="72.0" y1="125.5" x2="75" y2="125.5" stroke="#c4c4c4"/>
<line x1="71.0" y1="118.5" x2="75" y2="118.5" stroke="#c4c4c4"/>
<line x1="72.0" y1="110.5" x2="75" y2="110.5" stroke="#c4c4c4"/>
<line x1="72.0" y1="103.5" x2="75" y2="103.5" stroke="#c4c4c4"/>
<line x1="72.0" y1="95.5" x2="75" y2="95.5" stroke="#c4c4c4"/>
<line x1="72.0" y1="88.5" x2="75" y2="88.5" stroke="#c4c4c4"/>
<line x1="71.0" y1="80.5" x2="75" y2="80.5" stroke="#c4c4c4"/>
<line x1="75.5" y1="456" x2="75.5" y2="459" stroke="#c4c4c4"/>
<line x1="102.5" y1="456" x2="102.5" y2="459" stroke="#c4c4c4"/>
<line x1="130.5" y1="456" x2="130.5" y2="459" stroke="#c4c4c4"/>
<line x1="157.5" y1="456" x2="157.5" y2="459" stroke="#c4c4c4"/>
<line x1="184.5" y1="456" x2="184.5" y2="459" stroke="#c4c4c4"/>
<line x1="212.5" y1="456" x2="212.5" y2="459" stroke="#c4c4c4"/>
<line x1="239.5" y1="456" x2="239.5" y2="459" stroke="#c4c4c4"/>
<line x1="266.5" y1="456" x2="266.5" y2="459" stroke="#c4c4c4"/>
<line x1="293.5" y1="456" x2="293.5" y2="459" stroke="#c4c4c4"/>
<line x1="321.5" y1="456" x2="321.5" y2="459" stroke="#c4c4c4"/>
<line x1="348.5" y1="456" x2="348.5" y2="459" stroke="#c4c4c4"/>
<line x1="375.5" y1="456" x2="375.5" y2="459" stroke="#c4c4c4"/>
<line x1="403.5" y1="456" x2="403.5" y2="459" stroke="#c4c4c4"/>
<line x1="430.5" y1="456" x2="430.5" y2="459" stroke="#c4c4c4"/>
<line x1="457.5" y1="456" x2="457.5" y2="459" stroke="#c4c4c4"/>
<line x1="485.5" y1="456" x2="485.5" y2="459" stroke="#c4c4c4"/>
<line x1="512.5" y1="456" x2="512.5" y2="459" stroke="#c4c4c4"/>
<line x1="539.5" y1="456" x2="539.5" y2="459" stroke="#c4c4c4"/>
<line x1="567.5" y1="456" x2="567.5" y2="459" stroke="#c4c4c4"/>
<line x1="594.5" y1="456" x2="594.5" y2="459" stroke="#c4c4c4"/>
<line x1="621.5" y1="456" x2="621.5" y2="459" stroke="#c4c4c4"/>
<line x1="649.5" y1="456" x2="649.5" y2="459" stroke="#c4c4c4"/>
<line x1="676.5" y1="456" x2="676.5" y2="459" stroke="#c4c4c4"/>
<line x1="703.5" y1="456" x2="703.5" y2="459" stroke="#c4c4c4"/>
<line x1="730.5" y1="456" x2="730.5" y2="459" stroke="#c4c4c4"/>
<line x1="758.5" y1="456" x2="758.5" y2="459" stroke="#c4c4c4"/>
<line x1="785.5" y1="456" x2="785.5" y2="459" stroke="#c4c4c4"/>
<line x1="812.5" y1="456" x2="812.5" y2="459" stroke="#c4c4c4"/>
<line x1="840.5" y1="456" x2="840.5" y2="459" stroke="#c4c4c4"/>
<line x1="867.5" y1="456" x2="867.5" y2="459" stroke="#c4c4c4"/>
<line x1="894.5" y1="456" x2="894.5" y2="459" stroke="#c4c4c4"/>
<line x1="922.5" y1="456" x2="922.5" y2="459" stroke="#c4c4c4"/>
<line x1="949.5" y1="456" x2="949.5" y2="459" stroke="#c4c4c4"/>
<line x1="976.5" y1="456" x2="976.5" y2="459" stroke="#c4c4c4"/>
<line x1="1004.5" y1="456" x2="1004.5" y2="459" stroke="#c4c4c4"/>
<line x1="1031.5" y1="456" x2="1031.5" y2="459" stroke="#c4c4c4"/>
<line x1="1058.5" y1="456" x2="1058.5" y2="459" stroke="#c4c4c4"/>
<line x1="1085.5" y1="456" x2="1085.5" y2="459" stroke="#c4c4c4"/>
<line x1="1113.5" y1="456" x2="1113.5" y2="459" stroke="#c4c4c4"/>
<line x1="1140.5" y1="456" x2="1140.5" y2="459" stroke="#c4c4c4"/>
<line x1="1167.5" y1="456" x2="1167.5" y2="459" stroke="#c4c4c4"/>
<line x1="1195.5" y1="456" x2="1195.5" y2="459" stroke="#c4c4c4"/>
<line x1="1222.5" y1="456" x2="1222.5" y2="459" stroke="#c4c4c4"/>
<text x="66" y="459.3" text-anchor="end" class="lab">0</text>
<text x="66" y="421.8" text-anchor="end" class="lab">10</text>
<text x="66" y="384.3" text-anchor="end" class="lab">20</text>
<text x="66" y="346.8" text-anchor="end" class="lab">30</text>
<text x="66" y="309.3" text-anchor="end" class="lab">40</text>
<text x="66" y="271.8" text-anchor="end" class="lab">50</text>
<text x="66" y="234.3" text-anchor="end" class="lab">60</text>
<text x="66" y="196.8" text-anchor="end" class="lab">70</text>
<text x="66" y="159.3" text-anchor="end" class="lab">80</text>
<text x="66" y="121.8" text-anchor="end" class="lab">90</text>
<text x="66" y="84.3" text-anchor="end" class="lab">100</text>
<text x="102.3" y="476" text-anchor="middle" class="lab">200</text>
<text x="156.9" y="476" text-anchor="middle" class="lab">250</text>
<text x="211.5" y="476" text-anchor="middle" class="lab">300</text>
<text x="266.2" y="476" text-anchor="middle" class="lab">350</text>
<text x="320.8" y="476" text-anchor="middle" class="lab">400</text>
<text x="375.4" y="476" text-anchor="middle" class="lab">450</text>
<text x="430.0" y="476" text-anchor="middle" class="lab">500</text>
<text x="484.6" y="476" text-anchor="middle" class="lab">550</text>
<text x="539.3" y="476" text-anchor="middle" class="lab">600</text>
<text x="593.9" y="476" text-anchor="middle" class="lab">650</text>
<text x="648.5" y="476" text-anchor="middle" class="lab">700</text>
<text x="703.1" y="476" text-anchor="middle" class="lab">750</text>
<text x="757.7" y="476" text-anchor="middle" class="lab">800</text>
<text x="812.4" y="476" text-anchor="middle" class="lab">850</text>
<text x="867.0" y="476" text-anchor="middle" class="lab">900</text>
<text x="921.6" y="476" text-anchor="middle" class="lab">950</text>
<text x="976.2" y="476" text-anchor="middle" class="lab">1000</text>
<text x="1030.8" y="476" text-anchor="middle" class="lab">1050</text>
<text x="1085.5" y="476" text-anchor="middle" class="lab">1100</text>
<text x="1140.1" y="476" text-anchor="middle" class="lab">1150</text>
<text x="1194.7" y="476" text-anchor="middle" class="lab">1200</text>
<text x="648.8" y="500.6" text-anchor="middle" class="ttl">Wavelength [nm]</text>
<text transform="translate(28.4 267.4) rotate(-90)" text-anchor="middle" class="ttl2">Transmission [%]</text>
<line x1="463" y1="544" x2="479" y2="544" stroke="#0a6cc4" stroke-width="3"/>
<text x="484" y="548" class="leg">NG1</text>
<line x1="515" y1="544" x2="531" y2="544" stroke="#5aaef2" stroke-width="3"/>
<text x="536" y="548" class="leg">NG11</text>
<line x1="572" y1="544" x2="588" y2="544" stroke="#0d8a22" stroke-width="3"/>
<text x="593" y="548" class="leg">NG3</text>
<line x1="624" y1="544" x2="640" y2="544" stroke="#86bc14" stroke-width="3"/>
<text x="645" y="548" class="leg">NG4</text>
<line x1="676" y1="544" x2="692" y2="544" stroke="#ff8b33" stroke-width="3"/>
<text x="697" y="548" class="leg">NG5</text>
<line x1="728" y1="544" x2="744" y2="544" stroke="#ac1446" stroke-width="3"/>
<text x="749" y="548" class="leg">NG9</text>
</svg>
</body></html>
